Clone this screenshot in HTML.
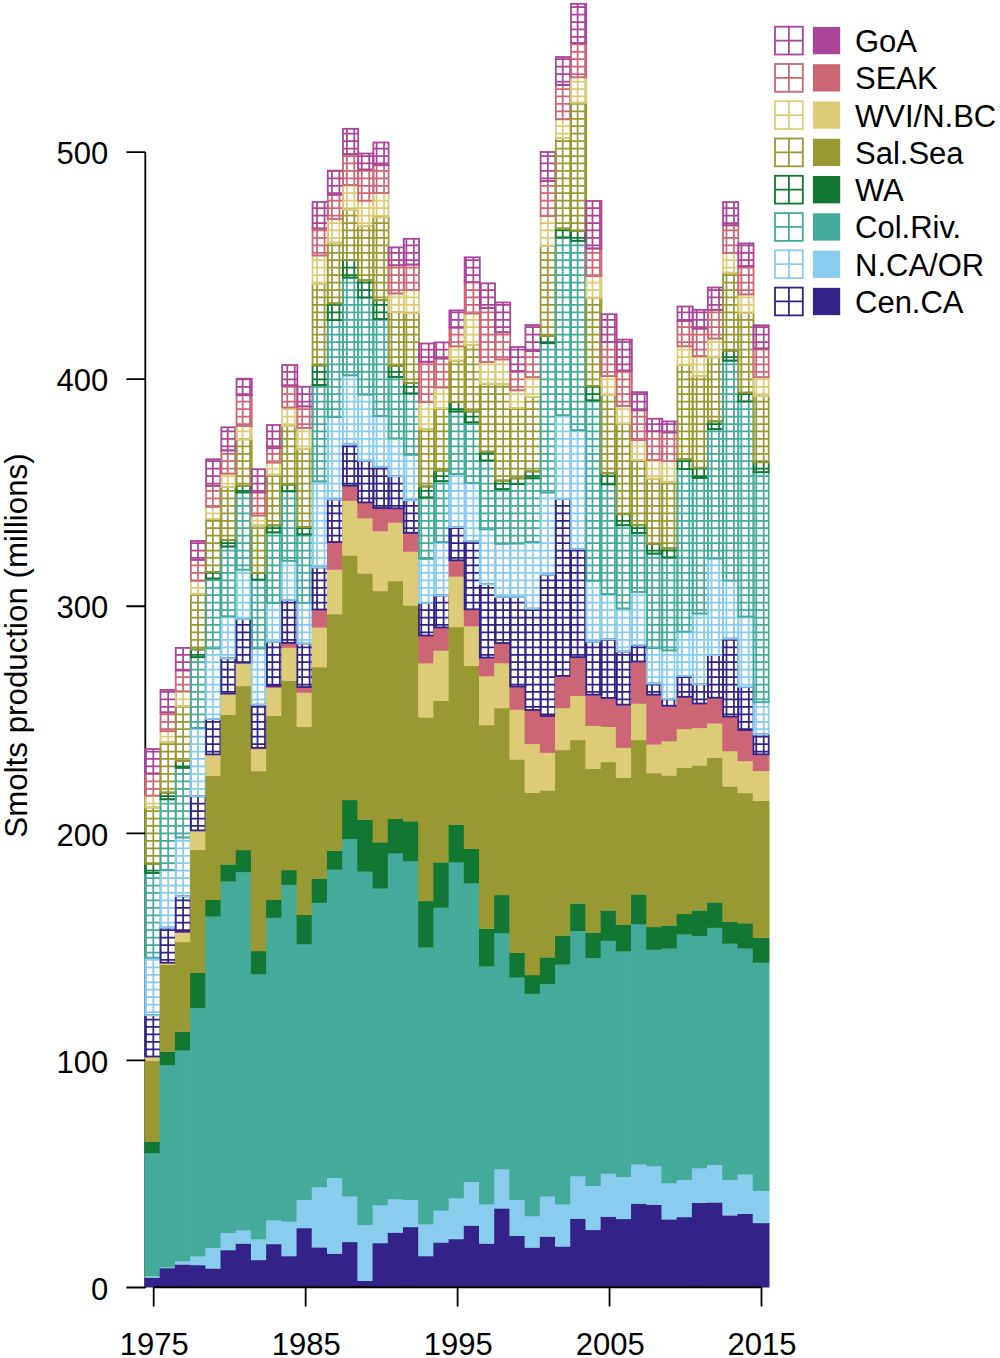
<!DOCTYPE html>
<html><head><meta charset="utf-8"><style>
html,body{margin:0;padding:0;background:#fff;}
body{width:1000px;height:1358px;overflow:hidden;font-family:"Liberation Sans",sans-serif;}
svg{display:block;}
</style></head><body>
<svg width="1000" height="1358" viewBox="0 0 1000 1358">
<rect width="1000" height="1358" fill="#fff"/>
<path d="M145.3 152.1V1288" stroke="#000" stroke-width="1.8" fill="none"/>
<g><path d="M144.5 1277.5H160.51V1287.5H144.5Z" fill="#332288"/><path d="M144.5 1276H160.51V1277.8H144.5Z" fill="#88CCEE"/><path d="M144.5 1152.9H160.51V1276.3H144.5Z" fill="#44AA99"/><path d="M144.5 1141.6H160.51V1153.2H144.5Z" fill="#117733"/><path d="M144.5 1060.8H160.51V1141.9H144.5Z" fill="#999933"/><path d="M144.5 1056.5H160.51V1061.1H144.5Z" fill="#DDCC77"/><path d="M145.86 1015.2V1056.5M153.3 1015.2V1056.5M145.3 1049.29H160.51M145.3 1041.85H160.51M145.3 1034.4H160.51M145.3 1026.96H160.51M145.3 1019.52H160.51" stroke="#332288" stroke-width="1.75" fill="none"/><path d="M145.86 957.7V1015.2M153.3 957.7V1015.2M145.3 1012.07H160.51M145.3 1004.63H160.51M145.3 997.18H160.51M145.3 989.74H160.51M145.3 982.3H160.51M145.3 974.85H160.51M145.3 967.41H160.51M145.3 959.96H160.51" stroke="#88CCEE" stroke-width="1.75" fill="none"/><path d="M145.86 873V957.7M153.3 873V957.7M145.3 952.52H160.51M145.3 945.08H160.51M145.3 937.63H160.51M145.3 930.19H160.51M145.3 922.74H160.51M145.3 915.3H160.51M145.3 907.86H160.51M145.3 900.41H160.51M145.3 892.97H160.51M145.3 885.52H160.51M145.3 878.08H160.51" stroke="#44AA99" stroke-width="1.75" fill="none"/><path d="M145.86 864V873M153.3 864V873M145.3 870.64H160.51" stroke="#117733" stroke-width="1.75" fill="none"/><path d="M145.86 807.5V864M153.3 807.5V864M145.3 863.19H160.51M145.3 855.75H160.51M145.3 848.3H160.51M145.3 840.86H160.51M145.3 833.42H160.51M145.3 825.97H160.51M145.3 818.53H160.51M145.3 811.08H160.51" stroke="#999933" stroke-width="1.75" fill="none"/><path d="M145.86 795.7V807.5M153.3 795.7V807.5M145.3 803.64H160.51M145.3 796.2H160.51" stroke="#DDCC77" stroke-width="1.75" fill="none"/><path d="M145.86 773.5V795.7M153.3 773.5V795.7M145.3 788.75H160.51M145.3 781.31H160.51M145.3 773.86H160.51" stroke="#CC6677" stroke-width="1.75" fill="none"/><path d="M145.86 749V773.5M153.3 749V773.5M145.3 766.42H160.51M145.3 758.98H160.51M145.3 751.53H160.51" stroke="#AA4499" stroke-width="1.75" fill="none"/><rect x="145.3" y="1015.2" width="15.21" height="41.3" fill="none" stroke="#332288" stroke-width="1.8"/><rect x="145.3" y="957.7" width="15.21" height="57.5" fill="none" stroke="#88CCEE" stroke-width="1.8"/><rect x="145.3" y="873" width="15.21" height="84.7" fill="none" stroke="#44AA99" stroke-width="1.8"/><rect x="145.3" y="864" width="15.21" height="9" fill="none" stroke="#117733" stroke-width="1.8"/><rect x="145.3" y="807.5" width="15.21" height="56.5" fill="none" stroke="#999933" stroke-width="1.8"/><rect x="145.3" y="795.7" width="15.21" height="11.8" fill="none" stroke="#DDCC77" stroke-width="1.8"/><rect x="145.3" y="773.5" width="15.21" height="22.2" fill="none" stroke="#CC6677" stroke-width="1.8"/><rect x="145.3" y="749" width="15.21" height="24.5" fill="none" stroke="#AA4499" stroke-width="1.8"/></g>
<g><path d="M159.71 1268H175.71V1287.5H159.71Z" fill="#332288"/><path d="M159.71 1267.2H175.71V1268.3H159.71Z" fill="#88CCEE"/><path d="M159.71 1064.8H175.71V1267.5H159.71Z" fill="#44AA99"/><path d="M159.71 1051.5H175.71V1065.1H159.71Z" fill="#117733"/><path d="M159.71 964.7H175.71V1051.8H159.71Z" fill="#999933"/><path d="M159.71 962.7H175.71V965H159.71Z" fill="#DDCC77"/><path d="M168.19 927.6V962.7M160.51 959.96H175.71M160.51 952.52H175.71M160.51 945.08H175.71M160.51 937.63H175.71M160.51 930.19H175.71" stroke="#332288" stroke-width="1.75" fill="none"/><path d="M168.19 870V927.6M160.51 922.74H175.71M160.51 915.3H175.71M160.51 907.86H175.71M160.51 900.41H175.71M160.51 892.97H175.71M160.51 885.52H175.71M160.51 878.08H175.71M160.51 870.64H175.71" stroke="#88CCEE" stroke-width="1.75" fill="none"/><path d="M168.19 799.3V870M160.51 863.19H175.71M160.51 855.75H175.71M160.51 848.3H175.71M160.51 840.86H175.71M160.51 833.42H175.71M160.51 825.97H175.71M160.51 818.53H175.71M160.51 811.08H175.71M160.51 803.64H175.71" stroke="#44AA99" stroke-width="1.75" fill="none"/><path d="M168.19 792.6V799.3M160.51 796.2H175.71" stroke="#117733" stroke-width="1.75" fill="none"/><path d="M168.19 742V792.6M160.51 788.75H175.71M160.51 781.31H175.71M160.51 773.86H175.71M160.51 766.42H175.71M160.51 758.98H175.71M160.51 751.53H175.71M160.51 744.09H175.71" stroke="#999933" stroke-width="1.75" fill="none"/><path d="M168.19 731.2V742M160.51 736.64H175.71" stroke="#DDCC77" stroke-width="1.75" fill="none"/><path d="M168.19 712.4V731.2M160.51 729.2H175.71M160.51 721.76H175.71M160.51 714.31H175.71" stroke="#CC6677" stroke-width="1.75" fill="none"/><path d="M168.19 689.9V712.4M160.51 706.87H175.71M160.51 699.42H175.71M160.51 691.98H175.71" stroke="#AA4499" stroke-width="1.75" fill="none"/><rect x="160.51" y="927.6" width="15.2" height="35.1" fill="none" stroke="#332288" stroke-width="1.8"/><rect x="160.51" y="870" width="15.2" height="57.6" fill="none" stroke="#88CCEE" stroke-width="1.8"/><rect x="160.51" y="799.3" width="15.2" height="70.7" fill="none" stroke="#44AA99" stroke-width="1.8"/><rect x="160.51" y="792.6" width="15.2" height="6.7" fill="none" stroke="#117733" stroke-width="1.8"/><rect x="160.51" y="742" width="15.2" height="50.6" fill="none" stroke="#999933" stroke-width="1.8"/><rect x="160.51" y="731.2" width="15.2" height="10.8" fill="none" stroke="#DDCC77" stroke-width="1.8"/><rect x="160.51" y="712.4" width="15.2" height="18.8" fill="none" stroke="#CC6677" stroke-width="1.8"/><rect x="160.51" y="689.9" width="15.2" height="22.5" fill="none" stroke="#AA4499" stroke-width="1.8"/></g>
<g><path d="M174.91 1264.3H190.92V1287.5H174.91Z" fill="#332288"/><path d="M174.91 1261H190.92V1264.6H174.91Z" fill="#88CCEE"/><path d="M174.91 1050.3H190.92V1261.3H174.91Z" fill="#44AA99"/><path d="M174.91 1031.5H190.92V1050.6H174.91Z" fill="#117733"/><path d="M174.91 941.9H190.92V1031.8H174.91Z" fill="#999933"/><path d="M174.91 932.6H190.92V942.2H174.91Z" fill="#DDCC77"/><path d="M174.91 931.5H190.92V932.9H174.91Z" fill="#CC6677"/><path d="M183.08 896.3V931.5M190.52 896.3V931.5M175.71 930.19H190.92M175.71 922.74H190.92M175.71 915.3H190.92M175.71 907.86H190.92M175.71 900.41H190.92" stroke="#332288" stroke-width="1.75" fill="none"/><path d="M183.08 837.5V896.3M190.52 837.5V896.3M175.71 892.97H190.92M175.71 885.52H190.92M175.71 878.08H190.92M175.71 870.64H190.92M175.71 863.19H190.92M175.71 855.75H190.92M175.71 848.3H190.92M175.71 840.86H190.92" stroke="#88CCEE" stroke-width="1.75" fill="none"/><path d="M183.08 767.8V837.5M190.52 767.8V837.5M175.71 833.42H190.92M175.71 825.97H190.92M175.71 818.53H190.92M175.71 811.08H190.92M175.71 803.64H190.92M175.71 796.2H190.92M175.71 788.75H190.92M175.71 781.31H190.92M175.71 773.86H190.92" stroke="#44AA99" stroke-width="1.75" fill="none"/><path d="M183.08 761.1V767.8M190.52 761.1V767.8M175.71 766.42H190.92" stroke="#117733" stroke-width="1.75" fill="none"/><path d="M183.08 706V761.1M190.52 706V761.1M175.71 758.98H190.92M175.71 751.53H190.92M175.71 744.09H190.92M175.71 736.64H190.92M175.71 729.2H190.92M175.71 721.76H190.92M175.71 714.31H190.92M175.71 706.87H190.92" stroke="#999933" stroke-width="1.75" fill="none"/><path d="M183.08 691.4V706M190.52 691.4V706M175.71 699.42H190.92M175.71 691.98H190.92" stroke="#DDCC77" stroke-width="1.75" fill="none"/><path d="M183.08 670.4V691.4M190.52 670.4V691.4M175.71 684.54H190.92M175.71 677.09H190.92" stroke="#CC6677" stroke-width="1.75" fill="none"/><path d="M183.08 647.9V670.4M190.52 647.9V670.4M175.71 669.65H190.92M175.71 662.2H190.92M175.71 654.76H190.92" stroke="#AA4499" stroke-width="1.75" fill="none"/><rect x="175.71" y="896.3" width="15.21" height="35.2" fill="none" stroke="#332288" stroke-width="1.8"/><rect x="175.71" y="837.5" width="15.21" height="58.8" fill="none" stroke="#88CCEE" stroke-width="1.8"/><rect x="175.71" y="767.8" width="15.21" height="69.7" fill="none" stroke="#44AA99" stroke-width="1.8"/><rect x="175.71" y="761.1" width="15.21" height="6.7" fill="none" stroke="#117733" stroke-width="1.8"/><rect x="175.71" y="706" width="15.21" height="55.1" fill="none" stroke="#999933" stroke-width="1.8"/><rect x="175.71" y="691.4" width="15.21" height="14.6" fill="none" stroke="#DDCC77" stroke-width="1.8"/><rect x="175.71" y="670.4" width="15.21" height="21" fill="none" stroke="#CC6677" stroke-width="1.8"/><rect x="175.71" y="647.9" width="15.21" height="22.5" fill="none" stroke="#AA4499" stroke-width="1.8"/></g>
<g><path d="M190.12 1265H206.12V1287.5H190.12Z" fill="#332288"/><path d="M190.12 1256.2H206.12V1265.3H190.12Z" fill="#88CCEE"/><path d="M190.12 1007.7H206.12V1256.5H190.12Z" fill="#44AA99"/><path d="M190.12 972.7H206.12V1008H190.12Z" fill="#117733"/><path d="M190.12 849.8H206.12V973H190.12Z" fill="#999933"/><path d="M190.12 830.4H206.12V850.1H190.12Z" fill="#DDCC77"/><path d="M197.96 796.3V830.4M205.41 796.3V830.4M190.92 825.97H206.12M190.92 818.53H206.12M190.92 811.08H206.12M190.92 803.64H206.12" stroke="#332288" stroke-width="1.75" fill="none"/><path d="M197.96 727.9V796.3M205.41 727.9V796.3M190.92 788.75H206.12M190.92 781.31H206.12M190.92 773.86H206.12M190.92 766.42H206.12M190.92 758.98H206.12M190.92 751.53H206.12M190.92 744.09H206.12M190.92 736.64H206.12M190.92 729.2H206.12" stroke="#88CCEE" stroke-width="1.75" fill="none"/><path d="M197.96 657.2V727.9M205.41 657.2V727.9M190.92 721.76H206.12M190.92 714.31H206.12M190.92 706.87H206.12M190.92 699.42H206.12M190.92 691.98H206.12M190.92 684.54H206.12M190.92 677.09H206.12M190.92 669.65H206.12M190.92 662.2H206.12" stroke="#44AA99" stroke-width="1.75" fill="none"/><path d="M197.96 649.5V657.2M205.41 649.5V657.2M190.92 654.76H206.12" stroke="#117733" stroke-width="1.75" fill="none"/><path d="M197.96 594V649.5M205.41 594V649.5M190.92 647.32H206.12M190.92 639.87H206.12M190.92 632.43H206.12M190.92 624.98H206.12M190.92 617.54H206.12M190.92 610.1H206.12M190.92 602.65H206.12M190.92 595.21H206.12" stroke="#999933" stroke-width="1.75" fill="none"/><path d="M197.96 580.8V594M205.41 580.8V594M190.92 587.76H206.12" stroke="#DDCC77" stroke-width="1.75" fill="none"/><path d="M197.96 559.8V580.8M205.41 559.8V580.8M190.92 580.32H206.12M190.92 572.88H206.12M190.92 565.43H206.12" stroke="#CC6677" stroke-width="1.75" fill="none"/><path d="M197.96 541V559.8M205.41 541V559.8M190.92 557.99H206.12M190.92 550.54H206.12M190.92 543.1H206.12" stroke="#AA4499" stroke-width="1.75" fill="none"/><rect x="190.92" y="796.3" width="15.2" height="34.1" fill="none" stroke="#332288" stroke-width="1.8"/><rect x="190.92" y="727.9" width="15.2" height="68.4" fill="none" stroke="#88CCEE" stroke-width="1.8"/><rect x="190.92" y="657.2" width="15.2" height="70.7" fill="none" stroke="#44AA99" stroke-width="1.8"/><rect x="190.92" y="649.5" width="15.2" height="7.7" fill="none" stroke="#117733" stroke-width="1.8"/><rect x="190.92" y="594" width="15.2" height="55.5" fill="none" stroke="#999933" stroke-width="1.8"/><rect x="190.92" y="580.8" width="15.2" height="13.2" fill="none" stroke="#DDCC77" stroke-width="1.8"/><rect x="190.92" y="559.8" width="15.2" height="21" fill="none" stroke="#CC6677" stroke-width="1.8"/><rect x="190.92" y="541" width="15.2" height="18.8" fill="none" stroke="#AA4499" stroke-width="1.8"/></g>
<g><path d="M205.32 1268.3H221.33V1287.5H205.32Z" fill="#332288"/><path d="M205.32 1247.8H221.33V1268.6H205.32Z" fill="#88CCEE"/><path d="M205.32 916.4H221.33V1248.1H205.32Z" fill="#44AA99"/><path d="M205.32 899.6H221.33V916.7H205.32Z" fill="#117733"/><path d="M205.32 775.4H221.33V899.9H205.32Z" fill="#999933"/><path d="M205.32 754.4H221.33V775.7H205.32Z" fill="#DDCC77"/><path d="M212.85 719V754.4M220.3 719V754.4M206.12 751.53H221.33M206.12 744.09H221.33M206.12 736.64H221.33M206.12 729.2H221.33M206.12 721.76H221.33" stroke="#332288" stroke-width="1.75" fill="none"/><path d="M212.85 648.4V719M220.3 648.4V719M206.12 714.31H221.33M206.12 706.87H221.33M206.12 699.42H221.33M206.12 691.98H221.33M206.12 684.54H221.33M206.12 677.09H221.33M206.12 669.65H221.33M206.12 662.2H221.33M206.12 654.76H221.33" stroke="#88CCEE" stroke-width="1.75" fill="none"/><path d="M212.85 578.6V648.4M220.3 578.6V648.4M206.12 647.32H221.33M206.12 639.87H221.33M206.12 632.43H221.33M206.12 624.98H221.33M206.12 617.54H221.33M206.12 610.1H221.33M206.12 602.65H221.33M206.12 595.21H221.33M206.12 587.76H221.33M206.12 580.32H221.33" stroke="#44AA99" stroke-width="1.75" fill="none"/><path d="M212.85 572V578.6M220.3 572V578.6M206.12 572.88H221.33" stroke="#117733" stroke-width="1.75" fill="none"/><path d="M212.85 518.9V572M220.3 518.9V572M206.12 565.43H221.33M206.12 557.99H221.33M206.12 550.54H221.33M206.12 543.1H221.33M206.12 535.66H221.33M206.12 528.21H221.33M206.12 520.77H221.33" stroke="#999933" stroke-width="1.75" fill="none"/><path d="M212.85 506.8V518.9M220.3 506.8V518.9M206.12 513.32H221.33" stroke="#DDCC77" stroke-width="1.75" fill="none"/><path d="M212.85 485.8V506.8M220.3 485.8V506.8M206.12 505.88H221.33M206.12 498.44H221.33M206.12 490.99H221.33" stroke="#CC6677" stroke-width="1.75" fill="none"/><path d="M212.85 459.3V485.8M220.3 459.3V485.8M206.12 483.55H221.33M206.12 476.1H221.33M206.12 468.66H221.33M206.12 461.22H221.33" stroke="#AA4499" stroke-width="1.75" fill="none"/><rect x="206.12" y="719" width="15.21" height="35.4" fill="none" stroke="#332288" stroke-width="1.8"/><rect x="206.12" y="648.4" width="15.21" height="70.6" fill="none" stroke="#88CCEE" stroke-width="1.8"/><rect x="206.12" y="578.6" width="15.21" height="69.8" fill="none" stroke="#44AA99" stroke-width="1.8"/><rect x="206.12" y="572" width="15.21" height="6.6" fill="none" stroke="#117733" stroke-width="1.8"/><rect x="206.12" y="518.9" width="15.21" height="53.1" fill="none" stroke="#999933" stroke-width="1.8"/><rect x="206.12" y="506.8" width="15.21" height="12.1" fill="none" stroke="#DDCC77" stroke-width="1.8"/><rect x="206.12" y="485.8" width="15.21" height="21" fill="none" stroke="#CC6677" stroke-width="1.8"/><rect x="206.12" y="459.3" width="15.21" height="26.5" fill="none" stroke="#AA4499" stroke-width="1.8"/></g>
<g><path d="M220.53 1250H236.53V1287.5H220.53Z" fill="#332288"/><path d="M220.53 1232.8H236.53V1250.3H220.53Z" fill="#88CCEE"/><path d="M220.53 881.3H236.53V1233.1H220.53Z" fill="#44AA99"/><path d="M220.53 864.3H236.53V881.6H220.53Z" fill="#117733"/><path d="M220.53 714.6H236.53V864.6H220.53Z" fill="#999933"/><path d="M220.53 693.6H236.53V714.9H220.53Z" fill="#DDCC77"/><path d="M227.74 658.3V693.6M235.18 658.3V693.6M221.33 691.98H236.53M221.33 684.54H236.53M221.33 677.09H236.53M221.33 669.65H236.53M221.33 662.2H236.53" stroke="#332288" stroke-width="1.75" fill="none"/><path d="M227.74 616.3V658.3M235.18 616.3V658.3M221.33 654.76H236.53M221.33 647.32H236.53M221.33 639.87H236.53M221.33 632.43H236.53M221.33 624.98H236.53M221.33 617.54H236.53" stroke="#88CCEE" stroke-width="1.75" fill="none"/><path d="M227.74 546.5V616.3M235.18 546.5V616.3M221.33 610.1H236.53M221.33 602.65H236.53M221.33 595.21H236.53M221.33 587.76H236.53M221.33 580.32H236.53M221.33 572.88H236.53M221.33 565.43H236.53M221.33 557.99H236.53M221.33 550.54H236.53" stroke="#44AA99" stroke-width="1.75" fill="none"/><path d="M227.74 539.9V546.5M235.18 539.9V546.5M221.33 543.1H236.53" stroke="#117733" stroke-width="1.75" fill="none"/><path d="M227.74 486.9V539.9M235.18 486.9V539.9M221.33 535.66H236.53M221.33 528.21H236.53M221.33 520.77H236.53M221.33 513.32H236.53M221.33 505.88H236.53M221.33 498.44H236.53M221.33 490.99H236.53" stroke="#999933" stroke-width="1.75" fill="none"/><path d="M227.74 473.6V486.9M235.18 473.6V486.9M221.33 483.55H236.53M221.33 476.1H236.53" stroke="#DDCC77" stroke-width="1.75" fill="none"/><path d="M227.74 450.4V473.6M235.18 450.4V473.6M221.33 468.66H236.53M221.33 461.22H236.53M221.33 453.77H236.53" stroke="#CC6677" stroke-width="1.75" fill="none"/><path d="M227.74 427.3V450.4M235.18 427.3V450.4M221.33 446.33H236.53M221.33 438.88H236.53M221.33 431.44H236.53" stroke="#AA4499" stroke-width="1.75" fill="none"/><rect x="221.33" y="658.3" width="15.21" height="35.3" fill="none" stroke="#332288" stroke-width="1.8"/><rect x="221.33" y="616.3" width="15.21" height="42" fill="none" stroke="#88CCEE" stroke-width="1.8"/><rect x="221.33" y="546.5" width="15.21" height="69.8" fill="none" stroke="#44AA99" stroke-width="1.8"/><rect x="221.33" y="539.9" width="15.21" height="6.6" fill="none" stroke="#117733" stroke-width="1.8"/><rect x="221.33" y="486.9" width="15.21" height="53" fill="none" stroke="#999933" stroke-width="1.8"/><rect x="221.33" y="473.6" width="15.21" height="13.3" fill="none" stroke="#DDCC77" stroke-width="1.8"/><rect x="221.33" y="450.4" width="15.21" height="23.2" fill="none" stroke="#CC6677" stroke-width="1.8"/><rect x="221.33" y="427.3" width="15.21" height="23.1" fill="none" stroke="#AA4499" stroke-width="1.8"/></g>
<g><path d="M235.73 1243.4H251.74V1287.5H235.73Z" fill="#332288"/><path d="M235.73 1230.2H251.74V1243.7H235.73Z" fill="#88CCEE"/><path d="M235.73 871.8H251.74V1230.5H235.73Z" fill="#44AA99"/><path d="M235.73 850H251.74V872.1H235.73Z" fill="#117733"/><path d="M235.73 685.9H251.74V850.3H235.73Z" fill="#999933"/><path d="M235.73 662.7H251.74V686.2H235.73Z" fill="#DDCC77"/><path d="M242.63 619V662.7M250.07 619V662.7M236.53 662.2H251.74M236.53 654.76H251.74M236.53 647.32H251.74M236.53 639.87H251.74M236.53 632.43H251.74M236.53 624.98H251.74" stroke="#332288" stroke-width="1.75" fill="none"/><path d="M242.63 569.7V619M250.07 569.7V619M236.53 617.54H251.74M236.53 610.1H251.74M236.53 602.65H251.74M236.53 595.21H251.74M236.53 587.76H251.74M236.53 580.32H251.74M236.53 572.88H251.74" stroke="#88CCEE" stroke-width="1.75" fill="none"/><path d="M242.63 492.4V569.7M250.07 492.4V569.7M236.53 565.43H251.74M236.53 557.99H251.74M236.53 550.54H251.74M236.53 543.1H251.74M236.53 535.66H251.74M236.53 528.21H251.74M236.53 520.77H251.74M236.53 513.32H251.74M236.53 505.88H251.74M236.53 498.44H251.74" stroke="#44AA99" stroke-width="1.75" fill="none"/><path d="M242.63 485.8V492.4M250.07 485.8V492.4M236.53 490.99H251.74" stroke="#117733" stroke-width="1.75" fill="none"/><path d="M242.63 439.4V485.8M250.07 439.4V485.8M236.53 483.55H251.74M236.53 476.1H251.74M236.53 468.66H251.74M236.53 461.22H251.74M236.53 453.77H251.74M236.53 446.33H251.74" stroke="#999933" stroke-width="1.75" fill="none"/><path d="M242.63 426.1V439.4M250.07 426.1V439.4M236.53 438.88H251.74M236.53 431.44H251.74" stroke="#DDCC77" stroke-width="1.75" fill="none"/><path d="M242.63 395.2V426.1M250.07 395.2V426.1M236.53 424H251.74M236.53 416.55H251.74M236.53 409.11H251.74M236.53 401.66H251.74" stroke="#CC6677" stroke-width="1.75" fill="none"/><path d="M242.63 378.7V395.2M250.07 378.7V395.2M236.53 394.22H251.74M236.53 386.78H251.74M236.53 379.33H251.74" stroke="#AA4499" stroke-width="1.75" fill="none"/><rect x="236.53" y="619" width="15.2" height="43.7" fill="none" stroke="#332288" stroke-width="1.8"/><rect x="236.53" y="569.7" width="15.2" height="49.3" fill="none" stroke="#88CCEE" stroke-width="1.8"/><rect x="236.53" y="492.4" width="15.2" height="77.3" fill="none" stroke="#44AA99" stroke-width="1.8"/><rect x="236.53" y="485.8" width="15.2" height="6.6" fill="none" stroke="#117733" stroke-width="1.8"/><rect x="236.53" y="439.4" width="15.2" height="46.4" fill="none" stroke="#999933" stroke-width="1.8"/><rect x="236.53" y="426.1" width="15.2" height="13.3" fill="none" stroke="#DDCC77" stroke-width="1.8"/><rect x="236.53" y="395.2" width="15.2" height="30.9" fill="none" stroke="#CC6677" stroke-width="1.8"/><rect x="236.53" y="378.7" width="15.2" height="16.5" fill="none" stroke="#AA4499" stroke-width="1.8"/></g>
<g><path d="M250.94 1259.9H266.94V1287.5H250.94Z" fill="#332288"/><path d="M250.94 1239H266.94V1260.2H250.94Z" fill="#88CCEE"/><path d="M250.94 973.9H266.94V1239.3H250.94Z" fill="#44AA99"/><path d="M250.94 950.9H266.94V974.2H250.94Z" fill="#117733"/><path d="M250.94 771H266.94V951.2H250.94Z" fill="#999933"/><path d="M250.94 748.9H266.94V771.3H250.94Z" fill="#DDCC77"/><path d="M250.94 747.8H266.94V749.2H250.94Z" fill="#CC6677"/><path d="M257.52 704.7V747.8M264.96 704.7V747.8M251.74 744.09H266.94M251.74 736.64H266.94M251.74 729.2H266.94M251.74 721.76H266.94M251.74 714.31H266.94M251.74 706.87H266.94" stroke="#332288" stroke-width="1.75" fill="none"/><path d="M257.52 648.4V704.7M264.96 648.4V704.7M251.74 699.42H266.94M251.74 691.98H266.94M251.74 684.54H266.94M251.74 677.09H266.94M251.74 669.65H266.94M251.74 662.2H266.94M251.74 654.76H266.94" stroke="#88CCEE" stroke-width="1.75" fill="none"/><path d="M257.52 579.7V648.4M264.96 579.7V648.4M251.74 647.32H266.94M251.74 639.87H266.94M251.74 632.43H266.94M251.74 624.98H266.94M251.74 617.54H266.94M251.74 610.1H266.94M251.74 602.65H266.94M251.74 595.21H266.94M251.74 587.76H266.94M251.74 580.32H266.94" stroke="#44AA99" stroke-width="1.75" fill="none"/><path d="M257.52 573V579.7M264.96 573V579.7" stroke="#117733" stroke-width="1.75" fill="none"/><path d="M257.52 525.6V573M264.96 525.6V573M251.74 565.43H266.94M251.74 557.99H266.94M251.74 550.54H266.94M251.74 543.1H266.94M251.74 535.66H266.94M251.74 528.21H266.94" stroke="#999933" stroke-width="1.75" fill="none"/><path d="M257.52 515.6V525.6M264.96 515.6V525.6M251.74 520.77H266.94" stroke="#DDCC77" stroke-width="1.75" fill="none"/><path d="M257.52 492.4V515.6M264.96 492.4V515.6M251.74 513.32H266.94M251.74 505.88H266.94M251.74 498.44H266.94" stroke="#CC6677" stroke-width="1.75" fill="none"/><path d="M257.52 469.2V492.4M264.96 469.2V492.4M251.74 490.99H266.94M251.74 483.55H266.94M251.74 476.1H266.94" stroke="#AA4499" stroke-width="1.75" fill="none"/><rect x="251.74" y="704.7" width="15.2" height="43.1" fill="none" stroke="#332288" stroke-width="1.8"/><rect x="251.74" y="648.4" width="15.2" height="56.3" fill="none" stroke="#88CCEE" stroke-width="1.8"/><rect x="251.74" y="579.7" width="15.2" height="68.7" fill="none" stroke="#44AA99" stroke-width="1.8"/><rect x="251.74" y="573" width="15.2" height="6.7" fill="none" stroke="#117733" stroke-width="1.8"/><rect x="251.74" y="525.6" width="15.2" height="47.4" fill="none" stroke="#999933" stroke-width="1.8"/><rect x="251.74" y="515.6" width="15.2" height="10" fill="none" stroke="#DDCC77" stroke-width="1.8"/><rect x="251.74" y="492.4" width="15.2" height="23.2" fill="none" stroke="#CC6677" stroke-width="1.8"/><rect x="251.74" y="469.2" width="15.2" height="23.2" fill="none" stroke="#AA4499" stroke-width="1.8"/></g>
<g><path d="M266.14 1244H282.15V1287.5H266.14Z" fill="#332288"/><path d="M266.14 1220.3H282.15V1244.3H266.14Z" fill="#88CCEE"/><path d="M266.14 917.6H282.15V1220.6H266.14Z" fill="#44AA99"/><path d="M266.14 899.6H282.15V917.9H266.14Z" fill="#117733"/><path d="M266.14 715.7H282.15V899.9H266.14Z" fill="#999933"/><path d="M266.14 687.7H282.15V716H266.14Z" fill="#DDCC77"/><path d="M266.14 685.9H282.15V688H266.14Z" fill="#CC6677"/><path d="M272.4 641.8V685.9M279.85 641.8V685.9M266.94 684.54H282.14M266.94 677.09H282.14M266.94 669.65H282.14M266.94 662.2H282.14M266.94 654.76H282.14M266.94 647.32H282.14" stroke="#332288" stroke-width="1.75" fill="none"/><path d="M272.4 603V641.8M279.85 603V641.8M266.94 639.87H282.14M266.94 632.43H282.14M266.94 624.98H282.14M266.94 617.54H282.14M266.94 610.1H282.14" stroke="#88CCEE" stroke-width="1.75" fill="none"/><path d="M272.4 532.4V603M279.85 532.4V603M266.94 602.65H282.14M266.94 595.21H282.14M266.94 587.76H282.14M266.94 580.32H282.14M266.94 572.88H282.14M266.94 565.43H282.14M266.94 557.99H282.14M266.94 550.54H282.14M266.94 543.1H282.14M266.94 535.66H282.14" stroke="#44AA99" stroke-width="1.75" fill="none"/><path d="M272.4 525.4V532.4M279.85 525.4V532.4M266.94 528.21H282.14" stroke="#117733" stroke-width="1.75" fill="none"/><path d="M272.4 474.7V525.4M279.85 474.7V525.4M266.94 520.77H282.14M266.94 513.32H282.14M266.94 505.88H282.14M266.94 498.44H282.14M266.94 490.99H282.14M266.94 483.55H282.14M266.94 476.1H282.14" stroke="#999933" stroke-width="1.75" fill="none"/><path d="M272.4 462.6V474.7M279.85 462.6V474.7M266.94 468.66H282.14" stroke="#DDCC77" stroke-width="1.75" fill="none"/><path d="M272.4 448.2V462.6M279.85 448.2V462.6M266.94 461.22H282.14M266.94 453.77H282.14" stroke="#CC6677" stroke-width="1.75" fill="none"/><path d="M272.4 425V448.2M279.85 425V448.2M266.94 446.33H282.14M266.94 438.88H282.14M266.94 431.44H282.14" stroke="#AA4499" stroke-width="1.75" fill="none"/><rect x="266.94" y="641.8" width="15.2" height="44.1" fill="none" stroke="#332288" stroke-width="1.8"/><rect x="266.94" y="603" width="15.2" height="38.8" fill="none" stroke="#88CCEE" stroke-width="1.8"/><rect x="266.94" y="532.4" width="15.2" height="70.6" fill="none" stroke="#44AA99" stroke-width="1.8"/><rect x="266.94" y="525.4" width="15.2" height="7" fill="none" stroke="#117733" stroke-width="1.8"/><rect x="266.94" y="474.7" width="15.2" height="50.7" fill="none" stroke="#999933" stroke-width="1.8"/><rect x="266.94" y="462.6" width="15.2" height="12.1" fill="none" stroke="#DDCC77" stroke-width="1.8"/><rect x="266.94" y="448.2" width="15.2" height="14.4" fill="none" stroke="#CC6677" stroke-width="1.8"/><rect x="266.94" y="425" width="15.2" height="23.2" fill="none" stroke="#AA4499" stroke-width="1.8"/></g>
<g><path d="M281.35 1256H297.35V1287.5H281.35Z" fill="#332288"/><path d="M281.35 1221.4H297.35V1256.3H281.35Z" fill="#88CCEE"/><path d="M281.35 884.6H297.35V1221.7H281.35Z" fill="#44AA99"/><path d="M281.35 870H297.35V884.9H281.35Z" fill="#117733"/><path d="M281.35 680.4H297.35V870.3H281.35Z" fill="#999933"/><path d="M281.35 647.5H297.35V680.7H281.35Z" fill="#DDCC77"/><path d="M281.35 642.8H297.35V647.8H281.35Z" fill="#CC6677"/><path d="M287.29 600V642.8M294.74 600V642.8M282.14 639.87H297.35M282.14 632.43H297.35M282.14 624.98H297.35M282.14 617.54H297.35M282.14 610.1H297.35M282.14 602.65H297.35" stroke="#332288" stroke-width="1.75" fill="none"/><path d="M287.29 560.8V600M294.74 560.8V600M282.14 595.21H297.35M282.14 587.76H297.35M282.14 580.32H297.35M282.14 572.88H297.35M282.14 565.43H297.35" stroke="#88CCEE" stroke-width="1.75" fill="none"/><path d="M287.29 491.3V560.8M294.74 491.3V560.8M282.14 557.99H297.35M282.14 550.54H297.35M282.14 543.1H297.35M282.14 535.66H297.35M282.14 528.21H297.35M282.14 520.77H297.35M282.14 513.32H297.35M282.14 505.88H297.35M282.14 498.44H297.35" stroke="#44AA99" stroke-width="1.75" fill="none"/><path d="M287.29 484.7V491.3M294.74 484.7V491.3M282.14 490.99H297.35" stroke="#117733" stroke-width="1.75" fill="none"/><path d="M287.29 426.1V484.7M294.74 426.1V484.7M282.14 483.55H297.35M282.14 476.1H297.35M282.14 468.66H297.35M282.14 461.22H297.35M282.14 453.77H297.35M282.14 446.33H297.35M282.14 438.88H297.35M282.14 431.44H297.35" stroke="#999933" stroke-width="1.75" fill="none"/><path d="M287.29 407.5V426.1M294.74 407.5V426.1M282.14 424H297.35M282.14 416.55H297.35M282.14 409.11H297.35" stroke="#DDCC77" stroke-width="1.75" fill="none"/><path d="M287.29 385.4V407.5M294.74 385.4V407.5M282.14 401.66H297.35M282.14 394.22H297.35M282.14 386.78H297.35" stroke="#CC6677" stroke-width="1.75" fill="none"/><path d="M287.29 365V385.4M294.74 365V385.4M282.14 379.33H297.35M282.14 371.89H297.35" stroke="#AA4499" stroke-width="1.75" fill="none"/><rect x="282.14" y="600" width="15.21" height="42.8" fill="none" stroke="#332288" stroke-width="1.8"/><rect x="282.14" y="560.8" width="15.21" height="39.2" fill="none" stroke="#88CCEE" stroke-width="1.8"/><rect x="282.14" y="491.3" width="15.21" height="69.5" fill="none" stroke="#44AA99" stroke-width="1.8"/><rect x="282.14" y="484.7" width="15.21" height="6.6" fill="none" stroke="#117733" stroke-width="1.8"/><rect x="282.14" y="426.1" width="15.21" height="58.6" fill="none" stroke="#999933" stroke-width="1.8"/><rect x="282.14" y="407.5" width="15.21" height="18.6" fill="none" stroke="#DDCC77" stroke-width="1.8"/><rect x="282.14" y="385.4" width="15.21" height="22.1" fill="none" stroke="#CC6677" stroke-width="1.8"/><rect x="282.14" y="365" width="15.21" height="20.4" fill="none" stroke="#AA4499" stroke-width="1.8"/></g>
<g><path d="M296.55 1228H312.56V1287.5H296.55Z" fill="#332288"/><path d="M296.55 1199.8H312.56V1228.3H296.55Z" fill="#88CCEE"/><path d="M296.55 943.9H312.56V1200.1H296.55Z" fill="#44AA99"/><path d="M296.55 914.6H312.56V944.2H296.55Z" fill="#117733"/><path d="M296.55 726.8H312.56V914.9H296.55Z" fill="#999933"/><path d="M296.55 692.5H312.56V727.1H296.55Z" fill="#DDCC77"/><path d="M296.55 687H312.56V692.8H296.55Z" fill="#CC6677"/><path d="M302.18 643.6V687M309.62 643.6V687M297.35 684.54H312.56M297.35 677.09H312.56M297.35 669.65H312.56M297.35 662.2H312.56M297.35 654.76H312.56M297.35 647.32H312.56" stroke="#332288" stroke-width="1.75" fill="none"/><path d="M302.18 602.8V643.6M309.62 602.8V643.6M297.35 639.87H312.56M297.35 632.43H312.56M297.35 624.98H312.56M297.35 617.54H312.56M297.35 610.1H312.56" stroke="#88CCEE" stroke-width="1.75" fill="none"/><path d="M302.18 534.4V602.8M309.62 534.4V602.8M297.35 595.21H312.56M297.35 587.76H312.56M297.35 580.32H312.56M297.35 572.88H312.56M297.35 565.43H312.56M297.35 557.99H312.56M297.35 550.54H312.56M297.35 543.1H312.56M297.35 535.66H312.56" stroke="#44AA99" stroke-width="1.75" fill="none"/><path d="M302.18 527V534.4M309.62 527V534.4M297.35 528.21H312.56" stroke="#117733" stroke-width="1.75" fill="none"/><path d="M302.18 449V527M309.62 449V527M297.35 520.77H312.56M297.35 513.32H312.56M297.35 505.88H312.56M297.35 498.44H312.56M297.35 490.99H312.56M297.35 483.55H312.56M297.35 476.1H312.56M297.35 468.66H312.56M297.35 461.22H312.56M297.35 453.77H312.56" stroke="#999933" stroke-width="1.75" fill="none"/><path d="M302.18 428V449M309.62 428V449M297.35 446.33H312.56M297.35 438.88H312.56M297.35 431.44H312.56" stroke="#DDCC77" stroke-width="1.75" fill="none"/><path d="M302.18 406.4V428M309.62 406.4V428M297.35 424H312.56M297.35 416.55H312.56M297.35 409.11H312.56" stroke="#CC6677" stroke-width="1.75" fill="none"/><path d="M302.18 386.7V406.4M309.62 386.7V406.4M297.35 401.66H312.56M297.35 394.22H312.56" stroke="#AA4499" stroke-width="1.75" fill="none"/><rect x="297.35" y="643.6" width="15.2" height="43.4" fill="none" stroke="#332288" stroke-width="1.8"/><rect x="297.35" y="602.8" width="15.2" height="40.8" fill="none" stroke="#88CCEE" stroke-width="1.8"/><rect x="297.35" y="534.4" width="15.2" height="68.4" fill="none" stroke="#44AA99" stroke-width="1.8"/><rect x="297.35" y="527" width="15.2" height="7.4" fill="none" stroke="#117733" stroke-width="1.8"/><rect x="297.35" y="449" width="15.2" height="78" fill="none" stroke="#999933" stroke-width="1.8"/><rect x="297.35" y="428" width="15.2" height="21" fill="none" stroke="#DDCC77" stroke-width="1.8"/><rect x="297.35" y="406.4" width="15.2" height="21.6" fill="none" stroke="#CC6677" stroke-width="1.8"/><rect x="297.35" y="386.7" width="15.2" height="19.7" fill="none" stroke="#AA4499" stroke-width="1.8"/></g>
<g><path d="M311.75 1247.2H327.76V1287.5H311.75Z" fill="#332288"/><path d="M311.75 1186.9H327.76V1247.5H311.75Z" fill="#88CCEE"/><path d="M311.75 902.6H327.76V1187.2H311.75Z" fill="#44AA99"/><path d="M311.75 878.8H327.76V902.9H311.75Z" fill="#117733"/><path d="M311.75 667.1H327.76V879.1H311.75Z" fill="#999933"/><path d="M311.75 627.3H327.76V667.4H311.75Z" fill="#DDCC77"/><path d="M311.75 609.5H327.76V627.6H311.75Z" fill="#CC6677"/><path d="M317.07 567.5V609.5M324.51 567.5V609.5M312.56 602.65H327.76M312.56 595.21H327.76M312.56 587.76H327.76M312.56 580.32H327.76M312.56 572.88H327.76" stroke="#332288" stroke-width="1.75" fill="none"/><path d="M317.07 481.4V567.5M324.51 481.4V567.5M312.56 565.43H327.76M312.56 557.99H327.76M312.56 550.54H327.76M312.56 543.1H327.76M312.56 535.66H327.76M312.56 528.21H327.76M312.56 520.77H327.76M312.56 513.32H327.76M312.56 505.88H327.76M312.56 498.44H327.76M312.56 490.99H327.76M312.56 483.55H327.76" stroke="#88CCEE" stroke-width="1.75" fill="none"/><path d="M317.07 385V481.4M324.51 385V481.4M312.56 476.1H327.76M312.56 468.66H327.76M312.56 461.22H327.76M312.56 453.77H327.76M312.56 446.33H327.76M312.56 438.88H327.76M312.56 431.44H327.76M312.56 424H327.76M312.56 416.55H327.76M312.56 409.11H327.76M312.56 401.66H327.76M312.56 394.22H327.76M312.56 386.78H327.76" stroke="#44AA99" stroke-width="1.75" fill="none"/><path d="M317.07 365.5V385M324.51 365.5V385M312.56 379.33H327.76M312.56 371.89H327.76" stroke="#117733" stroke-width="1.75" fill="none"/><path d="M317.07 283.8V365.5M324.51 283.8V365.5M312.56 364.44H327.76M312.56 357H327.76M312.56 349.56H327.76M312.56 342.11H327.76M312.56 334.67H327.76M312.56 327.22H327.76M312.56 319.78H327.76M312.56 312.34H327.76M312.56 304.89H327.76M312.56 297.45H327.76M312.56 290H327.76" stroke="#999933" stroke-width="1.75" fill="none"/><path d="M317.07 255.5V283.8M324.51 255.5V283.8M312.56 282.56H327.76M312.56 275.12H327.76M312.56 267.67H327.76M312.56 260.23H327.76" stroke="#DDCC77" stroke-width="1.75" fill="none"/><path d="M317.07 228.5V255.5M324.51 228.5V255.5M312.56 252.78H327.76M312.56 245.34H327.76M312.56 237.9H327.76M312.56 230.45H327.76" stroke="#CC6677" stroke-width="1.75" fill="none"/><path d="M317.07 202V228.5M324.51 202V228.5M312.56 223.01H327.76M312.56 215.56H327.76M312.56 208.12H327.76" stroke="#AA4499" stroke-width="1.75" fill="none"/><rect x="312.56" y="567.5" width="15.2" height="42" fill="none" stroke="#332288" stroke-width="1.8"/><rect x="312.56" y="481.4" width="15.2" height="86.1" fill="none" stroke="#88CCEE" stroke-width="1.8"/><rect x="312.56" y="385" width="15.2" height="96.4" fill="none" stroke="#44AA99" stroke-width="1.8"/><rect x="312.56" y="365.5" width="15.2" height="19.5" fill="none" stroke="#117733" stroke-width="1.8"/><rect x="312.56" y="283.8" width="15.2" height="81.7" fill="none" stroke="#999933" stroke-width="1.8"/><rect x="312.56" y="255.5" width="15.2" height="28.3" fill="none" stroke="#DDCC77" stroke-width="1.8"/><rect x="312.56" y="228.5" width="15.2" height="27" fill="none" stroke="#CC6677" stroke-width="1.8"/><rect x="312.56" y="202" width="15.2" height="26.5" fill="none" stroke="#AA4499" stroke-width="1.8"/></g>
<g><path d="M326.96 1253.5H342.96V1287.5H326.96Z" fill="#332288"/><path d="M326.96 1177.8H342.96V1253.8H326.96Z" fill="#88CCEE"/><path d="M326.96 869.5H342.96V1178.1H326.96Z" fill="#44AA99"/><path d="M326.96 850.5H342.96V869.8H326.96Z" fill="#117733"/><path d="M326.96 614.1H342.96V850.8H326.96Z" fill="#999933"/><path d="M326.96 569.5H342.96V614.4H326.96Z" fill="#DDCC77"/><path d="M326.96 542H342.96V569.8H326.96Z" fill="#CC6677"/><path d="M331.96 499.4V542M339.4 499.4V542M327.76 535.66H342.97M327.76 528.21H342.97M327.76 520.77H342.97M327.76 513.32H342.97M327.76 505.88H342.97" stroke="#332288" stroke-width="1.75" fill="none"/><path d="M331.96 417V499.4M339.4 417V499.4M327.76 498.44H342.97M327.76 490.99H342.97M327.76 483.55H342.97M327.76 476.1H342.97M327.76 468.66H342.97M327.76 461.22H342.97M327.76 453.77H342.97M327.76 446.33H342.97M327.76 438.88H342.97M327.76 431.44H342.97M327.76 424H342.97" stroke="#88CCEE" stroke-width="1.75" fill="none"/><path d="M331.96 320.1V417M339.4 320.1V417M327.76 416.55H342.97M327.76 409.11H342.97M327.76 401.66H342.97M327.76 394.22H342.97M327.76 386.78H342.97M327.76 379.33H342.97M327.76 371.89H342.97M327.76 364.44H342.97M327.76 357H342.97M327.76 349.56H342.97M327.76 342.11H342.97M327.76 334.67H342.97M327.76 327.22H342.97" stroke="#44AA99" stroke-width="1.75" fill="none"/><path d="M331.96 303.5V320.1M339.4 303.5V320.1M327.76 319.78H342.97M327.76 312.34H342.97M327.76 304.89H342.97" stroke="#117733" stroke-width="1.75" fill="none"/><path d="M331.96 242.7V303.5M339.4 242.7V303.5M327.76 297.45H342.97M327.76 290H342.97M327.76 282.56H342.97M327.76 275.12H342.97M327.76 267.67H342.97M327.76 260.23H342.97M327.76 252.78H342.97M327.76 245.34H342.97" stroke="#999933" stroke-width="1.75" fill="none"/><path d="M331.96 219V242.7M339.4 219V242.7M327.76 237.9H342.97M327.76 230.45H342.97M327.76 223.01H342.97" stroke="#DDCC77" stroke-width="1.75" fill="none"/><path d="M331.96 194.7V219M339.4 194.7V219M327.76 215.56H342.97M327.76 208.12H342.97M327.76 200.68H342.97" stroke="#CC6677" stroke-width="1.75" fill="none"/><path d="M331.96 170.6V194.7M339.4 170.6V194.7M327.76 193.23H342.97M327.76 185.79H342.97M327.76 178.34H342.97M327.76 170.9H342.97" stroke="#AA4499" stroke-width="1.75" fill="none"/><rect x="327.76" y="499.4" width="15.21" height="42.6" fill="none" stroke="#332288" stroke-width="1.8"/><rect x="327.76" y="417" width="15.21" height="82.4" fill="none" stroke="#88CCEE" stroke-width="1.8"/><rect x="327.76" y="320.1" width="15.21" height="96.9" fill="none" stroke="#44AA99" stroke-width="1.8"/><rect x="327.76" y="303.5" width="15.21" height="16.6" fill="none" stroke="#117733" stroke-width="1.8"/><rect x="327.76" y="242.7" width="15.21" height="60.8" fill="none" stroke="#999933" stroke-width="1.8"/><rect x="327.76" y="219" width="15.21" height="23.7" fill="none" stroke="#DDCC77" stroke-width="1.8"/><rect x="327.76" y="194.7" width="15.21" height="24.3" fill="none" stroke="#CC6677" stroke-width="1.8"/><rect x="327.76" y="170.6" width="15.21" height="24.1" fill="none" stroke="#AA4499" stroke-width="1.8"/></g>
<g><path d="M342.16 1241.9H358.17V1287.5H342.16Z" fill="#332288"/><path d="M342.16 1196.1H358.17V1242.2H342.16Z" fill="#88CCEE"/><path d="M342.16 838.8H358.17V1196.4H342.16Z" fill="#44AA99"/><path d="M342.16 800H358.17V839.1H342.16Z" fill="#117733"/><path d="M342.16 555.3H358.17V800.3H342.16Z" fill="#999933"/><path d="M342.16 500.6H358.17V555.6H342.16Z" fill="#DDCC77"/><path d="M342.16 485.6H358.17V500.9H342.16Z" fill="#CC6677"/><path d="M346.84 444.5V485.6M354.29 444.5V485.6M342.97 483.55H358.17M342.97 476.1H358.17M342.97 468.66H358.17M342.97 461.22H358.17M342.97 453.77H358.17M342.97 446.33H358.17" stroke="#332288" stroke-width="1.75" fill="none"/><path d="M346.84 375.3V444.5M354.29 375.3V444.5M342.97 438.88H358.17M342.97 431.44H358.17M342.97 424H358.17M342.97 416.55H358.17M342.97 409.11H358.17M342.97 401.66H358.17M342.97 394.22H358.17M342.97 386.78H358.17M342.97 379.33H358.17" stroke="#88CCEE" stroke-width="1.75" fill="none"/><path d="M346.84 277.6V375.3M354.29 277.6V375.3M342.97 371.89H358.17M342.97 364.44H358.17M342.97 357H358.17M342.97 349.56H358.17M342.97 342.11H358.17M342.97 334.67H358.17M342.97 327.22H358.17M342.97 319.78H358.17M342.97 312.34H358.17M342.97 304.89H358.17M342.97 297.45H358.17M342.97 290H358.17M342.97 282.56H358.17" stroke="#44AA99" stroke-width="1.75" fill="none"/><path d="M346.84 259.9V277.6M354.29 259.9V277.6M342.97 275.12H358.17M342.97 267.67H358.17M342.97 260.23H358.17" stroke="#117733" stroke-width="1.75" fill="none"/><path d="M346.84 209.5V259.9M354.29 209.5V259.9M342.97 252.78H358.17M342.97 245.34H358.17M342.97 237.9H358.17M342.97 230.45H358.17M342.97 223.01H358.17M342.97 215.56H358.17" stroke="#999933" stroke-width="1.75" fill="none"/><path d="M346.84 185V209.5M354.29 185V209.5M342.97 208.12H358.17M342.97 200.68H358.17M342.97 193.23H358.17M342.97 185.79H358.17" stroke="#DDCC77" stroke-width="1.75" fill="none"/><path d="M346.84 154.2V185M354.29 154.2V185M342.97 178.34H358.17M342.97 170.9H358.17M342.97 163.46H358.17M342.97 156.01H358.17" stroke="#CC6677" stroke-width="1.75" fill="none"/><path d="M346.84 128.8V154.2M354.29 128.8V154.2M342.97 148.57H358.17M342.97 141.12H358.17M342.97 133.68H358.17" stroke="#AA4499" stroke-width="1.75" fill="none"/><rect x="342.97" y="444.5" width="15.2" height="41.1" fill="none" stroke="#332288" stroke-width="1.8"/><rect x="342.97" y="375.3" width="15.2" height="69.2" fill="none" stroke="#88CCEE" stroke-width="1.8"/><rect x="342.97" y="277.6" width="15.2" height="97.7" fill="none" stroke="#44AA99" stroke-width="1.8"/><rect x="342.97" y="259.9" width="15.2" height="17.7" fill="none" stroke="#117733" stroke-width="1.8"/><rect x="342.97" y="209.5" width="15.2" height="50.4" fill="none" stroke="#999933" stroke-width="1.8"/><rect x="342.97" y="185" width="15.2" height="24.5" fill="none" stroke="#DDCC77" stroke-width="1.8"/><rect x="342.97" y="154.2" width="15.2" height="30.8" fill="none" stroke="#CC6677" stroke-width="1.8"/><rect x="342.97" y="128.8" width="15.2" height="25.4" fill="none" stroke="#AA4499" stroke-width="1.8"/></g>
<g><path d="M357.37 1280.8H373.38V1287.5H357.37Z" fill="#332288"/><path d="M357.37 1224.7H373.38V1281.1H357.37Z" fill="#88CCEE"/><path d="M357.37 871.5H373.38V1225H357.37Z" fill="#44AA99"/><path d="M357.37 819.5H373.38V871.8H357.37Z" fill="#117733"/><path d="M357.37 573.2H373.38V819.8H357.37Z" fill="#999933"/><path d="M357.37 518.1H373.38V573.5H357.37Z" fill="#DDCC77"/><path d="M357.37 502.4H373.38V518.4H357.37Z" fill="#CC6677"/><path d="M361.73 460.7V502.4M369.18 460.7V502.4M358.17 498.44H373.38M358.17 490.99H373.38M358.17 483.55H373.38M358.17 476.1H373.38M358.17 468.66H373.38M358.17 461.22H373.38" stroke="#332288" stroke-width="1.75" fill="none"/><path d="M361.73 394.6V460.7M369.18 394.6V460.7M358.17 453.77H373.38M358.17 446.33H373.38M358.17 438.88H373.38M358.17 431.44H373.38M358.17 424H373.38M358.17 416.55H373.38M358.17 409.11H373.38M358.17 401.66H373.38" stroke="#88CCEE" stroke-width="1.75" fill="none"/><path d="M361.73 297.5V394.6M369.18 297.5V394.6M358.17 394.22H373.38M358.17 386.78H373.38M358.17 379.33H373.38M358.17 371.89H373.38M358.17 364.44H373.38M358.17 357H373.38M358.17 349.56H373.38M358.17 342.11H373.38M358.17 334.67H373.38M358.17 327.22H373.38M358.17 319.78H373.38M358.17 312.34H373.38M358.17 304.89H373.38" stroke="#44AA99" stroke-width="1.75" fill="none"/><path d="M361.73 280.3V297.5M369.18 280.3V297.5M358.17 290H373.38M358.17 282.56H373.38" stroke="#117733" stroke-width="1.75" fill="none"/><path d="M361.73 226.2V280.3M369.18 226.2V280.3M358.17 275.12H373.38M358.17 267.67H373.38M358.17 260.23H373.38M358.17 252.78H373.38M358.17 245.34H373.38M358.17 237.9H373.38M358.17 230.45H373.38" stroke="#999933" stroke-width="1.75" fill="none"/><path d="M361.73 200.7V226.2M369.18 200.7V226.2M358.17 223.01H373.38M358.17 215.56H373.38M358.17 208.12H373.38" stroke="#DDCC77" stroke-width="1.75" fill="none"/><path d="M361.73 169.6V200.7M369.18 169.6V200.7M358.17 193.23H373.38M358.17 185.79H373.38M358.17 178.34H373.38M358.17 170.9H373.38" stroke="#CC6677" stroke-width="1.75" fill="none"/><path d="M361.73 153.5V169.6M369.18 153.5V169.6M358.17 163.46H373.38M358.17 156.01H373.38" stroke="#AA4499" stroke-width="1.75" fill="none"/><rect x="358.17" y="460.7" width="15.2" height="41.7" fill="none" stroke="#332288" stroke-width="1.8"/><rect x="358.17" y="394.6" width="15.2" height="66.1" fill="none" stroke="#88CCEE" stroke-width="1.8"/><rect x="358.17" y="297.5" width="15.2" height="97.1" fill="none" stroke="#44AA99" stroke-width="1.8"/><rect x="358.17" y="280.3" width="15.2" height="17.2" fill="none" stroke="#117733" stroke-width="1.8"/><rect x="358.17" y="226.2" width="15.2" height="54.1" fill="none" stroke="#999933" stroke-width="1.8"/><rect x="358.17" y="200.7" width="15.2" height="25.5" fill="none" stroke="#DDCC77" stroke-width="1.8"/><rect x="358.17" y="169.6" width="15.2" height="31.1" fill="none" stroke="#CC6677" stroke-width="1.8"/><rect x="358.17" y="153.5" width="15.2" height="16.1" fill="none" stroke="#AA4499" stroke-width="1.8"/></g>
<g><path d="M372.57 1243H388.58V1287.5H372.57Z" fill="#332288"/><path d="M372.57 1205.3H388.58V1243.3H372.57Z" fill="#88CCEE"/><path d="M372.57 888.3H388.58V1205.6H372.57Z" fill="#44AA99"/><path d="M372.57 842.1H388.58V888.6H372.57Z" fill="#117733"/><path d="M372.57 590.9H388.58V842.4H372.57Z" fill="#999933"/><path d="M372.57 531H388.58V591.2H372.57Z" fill="#DDCC77"/><path d="M372.57 508H388.58V531.3H372.57Z" fill="#CC6677"/><path d="M376.62 467V508M384.06 467V508M373.38 505.88H388.58M373.38 498.44H388.58M373.38 490.99H388.58M373.38 483.55H388.58M373.38 476.1H388.58M373.38 468.66H388.58" stroke="#332288" stroke-width="1.75" fill="none"/><path d="M376.62 416V467M384.06 416V467M373.38 461.22H388.58M373.38 453.77H388.58M373.38 446.33H388.58M373.38 438.88H388.58M373.38 431.44H388.58M373.38 424H388.58M373.38 416.55H388.58" stroke="#88CCEE" stroke-width="1.75" fill="none"/><path d="M376.62 319V416M384.06 319V416M373.38 409.11H388.58M373.38 401.66H388.58M373.38 394.22H388.58M373.38 386.78H388.58M373.38 379.33H388.58M373.38 371.89H388.58M373.38 364.44H388.58M373.38 357H388.58M373.38 349.56H388.58M373.38 342.11H388.58M373.38 334.67H388.58M373.38 327.22H388.58M373.38 319.78H388.58" stroke="#44AA99" stroke-width="1.75" fill="none"/><path d="M376.62 300.2V319M384.06 300.2V319M373.38 312.34H388.58M373.38 304.89H388.58" stroke="#117733" stroke-width="1.75" fill="none"/><path d="M376.62 217.3V300.2M384.06 217.3V300.2M373.38 297.45H388.58M373.38 290H388.58M373.38 282.56H388.58M373.38 275.12H388.58M373.38 267.67H388.58M373.38 260.23H388.58M373.38 252.78H388.58M373.38 245.34H388.58M373.38 237.9H388.58M373.38 230.45H388.58M373.38 223.01H388.58" stroke="#999933" stroke-width="1.75" fill="none"/><path d="M376.62 193V217.3M384.06 193V217.3M373.38 215.56H388.58M373.38 208.12H388.58M373.38 200.68H388.58" stroke="#DDCC77" stroke-width="1.75" fill="none"/><path d="M376.62 165.2V193M384.06 165.2V193M373.38 185.79H388.58M373.38 178.34H388.58M373.38 170.9H388.58" stroke="#CC6677" stroke-width="1.75" fill="none"/><path d="M376.62 142.5V165.2M384.06 142.5V165.2M373.38 163.46H388.58M373.38 156.01H388.58M373.38 148.57H388.58" stroke="#AA4499" stroke-width="1.75" fill="none"/><rect x="373.38" y="467" width="15.21" height="41" fill="none" stroke="#332288" stroke-width="1.8"/><rect x="373.38" y="416" width="15.21" height="51" fill="none" stroke="#88CCEE" stroke-width="1.8"/><rect x="373.38" y="319" width="15.21" height="97" fill="none" stroke="#44AA99" stroke-width="1.8"/><rect x="373.38" y="300.2" width="15.21" height="18.8" fill="none" stroke="#117733" stroke-width="1.8"/><rect x="373.38" y="217.3" width="15.21" height="82.9" fill="none" stroke="#999933" stroke-width="1.8"/><rect x="373.38" y="193" width="15.21" height="24.3" fill="none" stroke="#DDCC77" stroke-width="1.8"/><rect x="373.38" y="165.2" width="15.21" height="27.8" fill="none" stroke="#CC6677" stroke-width="1.8"/><rect x="373.38" y="142.5" width="15.21" height="22.7" fill="none" stroke="#AA4499" stroke-width="1.8"/></g>
<g><path d="M387.78 1232.4H403.79V1287.5H387.78Z" fill="#332288"/><path d="M387.78 1199H403.79V1232.7H387.78Z" fill="#88CCEE"/><path d="M387.78 853.1H403.79V1199.3H387.78Z" fill="#44AA99"/><path d="M387.78 818.4H403.79V853.4H387.78Z" fill="#117733"/><path d="M387.78 581H403.79V818.7H387.78Z" fill="#999933"/><path d="M387.78 522.4H403.79V581.3H387.78Z" fill="#DDCC77"/><path d="M387.78 508.3H403.79V522.7H387.78Z" fill="#CC6677"/><path d="M391.51 476.2V508.3M398.95 476.2V508.3M388.58 505.88H403.79M388.58 498.44H403.79M388.58 490.99H403.79M388.58 483.55H403.79" stroke="#332288" stroke-width="1.75" fill="none"/><path d="M391.51 438.5V476.2M398.95 438.5V476.2M388.58 468.66H403.79M388.58 461.22H403.79M388.58 453.77H403.79M388.58 446.33H403.79M388.58 438.88H403.79" stroke="#88CCEE" stroke-width="1.75" fill="none"/><path d="M391.51 377V438.5M398.95 377V438.5M388.58 431.44H403.79M388.58 424H403.79M388.58 416.55H403.79M388.58 409.11H403.79M388.58 401.66H403.79M388.58 394.22H403.79M388.58 386.78H403.79M388.58 379.33H403.79" stroke="#44AA99" stroke-width="1.75" fill="none"/><path d="M391.51 366V377M398.95 366V377M388.58 371.89H403.79" stroke="#117733" stroke-width="1.75" fill="none"/><path d="M391.51 312V366M398.95 312V366M388.58 364.44H403.79M388.58 357H403.79M388.58 349.56H403.79M388.58 342.11H403.79M388.58 334.67H403.79M388.58 327.22H403.79M388.58 319.78H403.79M388.58 312.34H403.79" stroke="#999933" stroke-width="1.75" fill="none"/><path d="M391.51 293.5V312M398.95 293.5V312M388.58 304.89H403.79M388.58 297.45H403.79" stroke="#DDCC77" stroke-width="1.75" fill="none"/><path d="M391.51 265.3V293.5M398.95 265.3V293.5M388.58 290H403.79M388.58 282.56H403.79M388.58 275.12H403.79M388.58 267.67H403.79" stroke="#CC6677" stroke-width="1.75" fill="none"/><path d="M391.51 247.4V265.3M398.95 247.4V265.3M388.58 260.23H403.79M388.58 252.78H403.79" stroke="#AA4499" stroke-width="1.75" fill="none"/><rect x="388.58" y="476.2" width="15.2" height="32.1" fill="none" stroke="#332288" stroke-width="1.8"/><rect x="388.58" y="438.5" width="15.2" height="37.7" fill="none" stroke="#88CCEE" stroke-width="1.8"/><rect x="388.58" y="377" width="15.2" height="61.5" fill="none" stroke="#44AA99" stroke-width="1.8"/><rect x="388.58" y="366" width="15.2" height="11" fill="none" stroke="#117733" stroke-width="1.8"/><rect x="388.58" y="312" width="15.2" height="54" fill="none" stroke="#999933" stroke-width="1.8"/><rect x="388.58" y="293.5" width="15.2" height="18.5" fill="none" stroke="#DDCC77" stroke-width="1.8"/><rect x="388.58" y="265.3" width="15.2" height="28.2" fill="none" stroke="#CC6677" stroke-width="1.8"/><rect x="388.58" y="247.4" width="15.2" height="17.9" fill="none" stroke="#AA4499" stroke-width="1.8"/></g>
<g><path d="M402.99 1226.9H418.99V1287.5H402.99Z" fill="#332288"/><path d="M402.99 1199.8H418.99V1227.2H402.99Z" fill="#88CCEE"/><path d="M402.99 860.9H418.99V1200.1H402.99Z" fill="#44AA99"/><path d="M402.99 821.1H418.99V861.2H402.99Z" fill="#117733"/><path d="M402.99 605.3H418.99V821.4H402.99Z" fill="#999933"/><path d="M402.99 551.5H418.99V605.6H402.99Z" fill="#DDCC77"/><path d="M402.99 532.8H418.99V551.8H402.99Z" fill="#CC6677"/><path d="M406.4 500.2V532.8M413.84 500.2V532.8M403.79 528.21H418.99M403.79 520.77H418.99M403.79 513.32H418.99M403.79 505.88H418.99" stroke="#332288" stroke-width="1.75" fill="none"/><path d="M406.4 454.8V500.2M413.84 454.8V500.2M403.79 498.44H418.99M403.79 490.99H418.99M403.79 483.55H418.99M403.79 476.1H418.99M403.79 468.66H418.99M403.79 461.22H418.99" stroke="#88CCEE" stroke-width="1.75" fill="none"/><path d="M406.4 393.5V454.8M413.84 393.5V454.8M403.79 453.77H418.99M403.79 446.33H418.99M403.79 438.88H418.99M403.79 431.44H418.99M403.79 424H418.99M403.79 416.55H418.99M403.79 409.11H418.99M403.79 401.66H418.99M403.79 394.22H418.99" stroke="#44AA99" stroke-width="1.75" fill="none"/><path d="M406.4 383V393.5M413.84 383V393.5M403.79 386.78H418.99" stroke="#117733" stroke-width="1.75" fill="none"/><path d="M406.4 313.2V383M413.84 313.2V383M403.79 379.33H418.99M403.79 371.89H418.99M403.79 364.44H418.99M403.79 357H418.99M403.79 349.56H418.99M403.79 342.11H418.99M403.79 334.67H418.99M403.79 327.22H418.99M403.79 319.78H418.99" stroke="#999933" stroke-width="1.75" fill="none"/><path d="M406.4 290V313.2M413.84 290V313.2M403.79 312.34H418.99M403.79 304.89H418.99M403.79 297.45H418.99" stroke="#DDCC77" stroke-width="1.75" fill="none"/><path d="M406.4 264.6V290M413.84 264.6V290M403.79 282.56H418.99M403.79 275.12H418.99M403.79 267.67H418.99" stroke="#CC6677" stroke-width="1.75" fill="none"/><path d="M406.4 238.8V264.6M413.84 238.8V264.6M403.79 260.23H418.99M403.79 252.78H418.99M403.79 245.34H418.99" stroke="#AA4499" stroke-width="1.75" fill="none"/><rect x="403.79" y="500.2" width="15.2" height="32.6" fill="none" stroke="#332288" stroke-width="1.8"/><rect x="403.79" y="454.8" width="15.2" height="45.4" fill="none" stroke="#88CCEE" stroke-width="1.8"/><rect x="403.79" y="393.5" width="15.2" height="61.3" fill="none" stroke="#44AA99" stroke-width="1.8"/><rect x="403.79" y="383" width="15.2" height="10.5" fill="none" stroke="#117733" stroke-width="1.8"/><rect x="403.79" y="313.2" width="15.2" height="69.8" fill="none" stroke="#999933" stroke-width="1.8"/><rect x="403.79" y="290" width="15.2" height="23.2" fill="none" stroke="#DDCC77" stroke-width="1.8"/><rect x="403.79" y="264.6" width="15.2" height="25.4" fill="none" stroke="#CC6677" stroke-width="1.8"/><rect x="403.79" y="238.8" width="15.2" height="25.8" fill="none" stroke="#AA4499" stroke-width="1.8"/></g>
<g><path d="M418.19 1256H434.19V1287.5H418.19Z" fill="#332288"/><path d="M418.19 1224H434.19V1256.3H418.19Z" fill="#88CCEE"/><path d="M418.19 947.3H434.19V1224.3H418.19Z" fill="#44AA99"/><path d="M418.19 900.9H434.19V947.6H418.19Z" fill="#117733"/><path d="M418.19 717.3H434.19V901.2H418.19Z" fill="#999933"/><path d="M418.19 663.1H434.19V717.6H418.19Z" fill="#DDCC77"/><path d="M418.19 635.5H434.19V663.4H418.19Z" fill="#CC6677"/><path d="M421.28 603V635.5M428.73 603V635.5M418.99 632.43H434.19M418.99 624.98H434.19M418.99 617.54H434.19M418.99 610.1H434.19" stroke="#332288" stroke-width="1.75" fill="none"/><path d="M421.28 558.9V603M428.73 558.9V603M418.99 602.65H434.19M418.99 595.21H434.19M418.99 587.76H434.19M418.99 580.32H434.19M418.99 572.88H434.19M418.99 565.43H434.19" stroke="#88CCEE" stroke-width="1.75" fill="none"/><path d="M421.28 497.5V558.9M428.73 497.5V558.9M418.99 557.99H434.19M418.99 550.54H434.19M418.99 543.1H434.19M418.99 535.66H434.19M418.99 528.21H434.19M418.99 520.77H434.19M418.99 513.32H434.19M418.99 505.88H434.19M418.99 498.44H434.19" stroke="#44AA99" stroke-width="1.75" fill="none"/><path d="M421.28 486.5V497.5M428.73 486.5V497.5M418.99 490.99H434.19" stroke="#117733" stroke-width="1.75" fill="none"/><path d="M421.28 429V486.5M428.73 429V486.5M418.99 483.55H434.19M418.99 476.1H434.19M418.99 468.66H434.19M418.99 461.22H434.19M418.99 453.77H434.19M418.99 446.33H434.19M418.99 438.88H434.19M418.99 431.44H434.19" stroke="#999933" stroke-width="1.75" fill="none"/><path d="M421.28 402.1V429M428.73 402.1V429M418.99 424H434.19M418.99 416.55H434.19M418.99 409.11H434.19" stroke="#DDCC77" stroke-width="1.75" fill="none"/><path d="M421.28 361.8V402.1M428.73 361.8V402.1M418.99 401.66H434.19M418.99 394.22H434.19M418.99 386.78H434.19M418.99 379.33H434.19M418.99 371.89H434.19M418.99 364.44H434.19" stroke="#CC6677" stroke-width="1.75" fill="none"/><path d="M421.28 343.5V361.8M428.73 343.5V361.8M418.99 357H434.19M418.99 349.56H434.19" stroke="#AA4499" stroke-width="1.75" fill="none"/><rect x="418.99" y="603" width="15.2" height="32.5" fill="none" stroke="#332288" stroke-width="1.8"/><rect x="418.99" y="558.9" width="15.2" height="44.1" fill="none" stroke="#88CCEE" stroke-width="1.8"/><rect x="418.99" y="497.5" width="15.2" height="61.4" fill="none" stroke="#44AA99" stroke-width="1.8"/><rect x="418.99" y="486.5" width="15.2" height="11" fill="none" stroke="#117733" stroke-width="1.8"/><rect x="418.99" y="429" width="15.2" height="57.5" fill="none" stroke="#999933" stroke-width="1.8"/><rect x="418.99" y="402.1" width="15.2" height="26.9" fill="none" stroke="#DDCC77" stroke-width="1.8"/><rect x="418.99" y="361.8" width="15.2" height="40.3" fill="none" stroke="#CC6677" stroke-width="1.8"/><rect x="418.99" y="343.5" width="15.2" height="18.3" fill="none" stroke="#AA4499" stroke-width="1.8"/></g>
<g><path d="M433.39 1242.3H449.4V1287.5H433.39Z" fill="#332288"/><path d="M433.39 1210.4H449.4V1242.6H433.39Z" fill="#88CCEE"/><path d="M433.39 907.5H449.4V1210.7H433.39Z" fill="#44AA99"/><path d="M433.39 862.2H449.4V907.8H433.39Z" fill="#117733"/><path d="M433.39 700.5H449.4V862.5H433.39Z" fill="#999933"/><path d="M433.39 650.5H449.4V700.8H433.39Z" fill="#DDCC77"/><path d="M433.39 627.4H449.4V650.8H433.39Z" fill="#CC6677"/><path d="M436.17 595.6V627.4M443.62 595.6V627.4M434.19 624.98H449.4M434.19 617.54H449.4M434.19 610.1H449.4M434.19 602.65H449.4" stroke="#332288" stroke-width="1.75" fill="none"/><path d="M436.17 542V595.6M443.62 542V595.6M434.19 595.21H449.4M434.19 587.76H449.4M434.19 580.32H449.4M434.19 572.88H449.4M434.19 565.43H449.4M434.19 557.99H449.4M434.19 550.54H449.4M434.19 543.1H449.4" stroke="#88CCEE" stroke-width="1.75" fill="none"/><path d="M436.17 481.2V542M443.62 481.2V542M434.19 535.66H449.4M434.19 528.21H449.4M434.19 520.77H449.4M434.19 513.32H449.4M434.19 505.88H449.4M434.19 498.44H449.4M434.19 490.99H449.4M434.19 483.55H449.4" stroke="#44AA99" stroke-width="1.75" fill="none"/><path d="M436.17 470.6V481.2M443.62 470.6V481.2M434.19 476.1H449.4" stroke="#117733" stroke-width="1.75" fill="none"/><path d="M436.17 408.5V470.6M443.62 408.5V470.6M434.19 468.66H449.4M434.19 461.22H449.4M434.19 453.77H449.4M434.19 446.33H449.4M434.19 438.88H449.4M434.19 431.44H449.4M434.19 424H449.4M434.19 416.55H449.4M434.19 409.11H449.4" stroke="#999933" stroke-width="1.75" fill="none"/><path d="M436.17 387.5V408.5M443.62 387.5V408.5M434.19 401.66H449.4M434.19 394.22H449.4" stroke="#DDCC77" stroke-width="1.75" fill="none"/><path d="M436.17 358.5V387.5M443.62 358.5V387.5M434.19 386.78H449.4M434.19 379.33H449.4M434.19 371.89H449.4M434.19 364.44H449.4" stroke="#CC6677" stroke-width="1.75" fill="none"/><path d="M436.17 342.4V358.5M443.62 342.4V358.5M434.19 357H449.4M434.19 349.56H449.4" stroke="#AA4499" stroke-width="1.75" fill="none"/><rect x="434.19" y="595.6" width="15.21" height="31.8" fill="none" stroke="#332288" stroke-width="1.8"/><rect x="434.19" y="542" width="15.21" height="53.6" fill="none" stroke="#88CCEE" stroke-width="1.8"/><rect x="434.19" y="481.2" width="15.21" height="60.8" fill="none" stroke="#44AA99" stroke-width="1.8"/><rect x="434.19" y="470.6" width="15.21" height="10.6" fill="none" stroke="#117733" stroke-width="1.8"/><rect x="434.19" y="408.5" width="15.21" height="62.1" fill="none" stroke="#999933" stroke-width="1.8"/><rect x="434.19" y="387.5" width="15.21" height="21" fill="none" stroke="#DDCC77" stroke-width="1.8"/><rect x="434.19" y="358.5" width="15.21" height="29" fill="none" stroke="#CC6677" stroke-width="1.8"/><rect x="434.19" y="342.4" width="15.21" height="16.1" fill="none" stroke="#AA4499" stroke-width="1.8"/></g>
<g><path d="M448.6 1239H464.61V1287.5H448.6Z" fill="#332288"/><path d="M448.6 1197.9H464.61V1239.3H448.6Z" fill="#88CCEE"/><path d="M448.6 862H464.61V1198.2H448.6Z" fill="#44AA99"/><path d="M448.6 824.4H464.61V862.3H448.6Z" fill="#117733"/><path d="M448.6 627H464.61V824.7H448.6Z" fill="#999933"/><path d="M448.6 576.4H464.61V627.3H448.6Z" fill="#DDCC77"/><path d="M448.6 560.3H464.61V576.7H448.6Z" fill="#CC6677"/><path d="M451.06 527.1V560.3M458.5 527.1V560.3M449.4 557.99H464.61M449.4 550.54H464.61M449.4 543.1H464.61M449.4 535.66H464.61M449.4 528.21H464.61" stroke="#332288" stroke-width="1.75" fill="none"/><path d="M451.06 474V527.1M458.5 474V527.1M449.4 520.77H464.61M449.4 513.32H464.61M449.4 505.88H464.61M449.4 498.44H464.61M449.4 490.99H464.61M449.4 483.55H464.61M449.4 476.1H464.61" stroke="#88CCEE" stroke-width="1.75" fill="none"/><path d="M451.06 411.5V474M458.5 411.5V474M449.4 468.66H464.61M449.4 461.22H464.61M449.4 453.77H464.61M449.4 446.33H464.61M449.4 438.88H464.61M449.4 431.44H464.61M449.4 424H464.61M449.4 416.55H464.61" stroke="#44AA99" stroke-width="1.75" fill="none"/><path d="M451.06 402V411.5M458.5 402V411.5M449.4 409.11H464.61" stroke="#117733" stroke-width="1.75" fill="none"/><path d="M451.06 360.7V402M458.5 360.7V402M449.4 401.66H464.61M449.4 394.22H464.61M449.4 386.78H464.61M449.4 379.33H464.61M449.4 371.89H464.61M449.4 364.44H464.61" stroke="#999933" stroke-width="1.75" fill="none"/><path d="M451.06 346.4V360.7M458.5 346.4V360.7M449.4 357H464.61M449.4 349.56H464.61" stroke="#DDCC77" stroke-width="1.75" fill="none"/><path d="M451.06 327.6V346.4M458.5 327.6V346.4M449.4 342.11H464.61M449.4 334.67H464.61" stroke="#CC6677" stroke-width="1.75" fill="none"/><path d="M451.06 310.4V327.6M458.5 310.4V327.6M449.4 327.22H464.61M449.4 319.78H464.61M449.4 312.34H464.61" stroke="#AA4499" stroke-width="1.75" fill="none"/><rect x="449.4" y="527.1" width="15.2" height="33.2" fill="none" stroke="#332288" stroke-width="1.8"/><rect x="449.4" y="474" width="15.2" height="53.1" fill="none" stroke="#88CCEE" stroke-width="1.8"/><rect x="449.4" y="411.5" width="15.2" height="62.5" fill="none" stroke="#44AA99" stroke-width="1.8"/><rect x="449.4" y="402" width="15.2" height="9.5" fill="none" stroke="#117733" stroke-width="1.8"/><rect x="449.4" y="360.7" width="15.2" height="41.3" fill="none" stroke="#999933" stroke-width="1.8"/><rect x="449.4" y="346.4" width="15.2" height="14.3" fill="none" stroke="#DDCC77" stroke-width="1.8"/><rect x="449.4" y="327.6" width="15.2" height="18.8" fill="none" stroke="#CC6677" stroke-width="1.8"/><rect x="449.4" y="310.4" width="15.2" height="17.2" fill="none" stroke="#AA4499" stroke-width="1.8"/></g>
<g><path d="M463.81 1225.4H479.81V1287.5H463.81Z" fill="#332288"/><path d="M463.81 1181.8H479.81V1225.7H463.81Z" fill="#88CCEE"/><path d="M463.81 883.2H479.81V1182.1H463.81Z" fill="#44AA99"/><path d="M463.81 848.7H479.81V883.5H463.81Z" fill="#117733"/><path d="M463.81 665.8H479.81V849H463.81Z" fill="#999933"/><path d="M463.81 626H479.81V666.1H463.81Z" fill="#DDCC77"/><path d="M463.81 609.3H479.81V626.3H463.81Z" fill="#CC6677"/><path d="M465.95 541V609.3M473.39 541V609.3M464.61 602.65H479.81M464.61 595.21H479.81M464.61 587.76H479.81M464.61 580.32H479.81M464.61 572.88H479.81M464.61 565.43H479.81M464.61 557.99H479.81M464.61 550.54H479.81M464.61 543.1H479.81" stroke="#332288" stroke-width="1.75" fill="none"/><path d="M465.95 483V541M473.39 483V541M464.61 535.66H479.81M464.61 528.21H479.81M464.61 520.77H479.81M464.61 513.32H479.81M464.61 505.88H479.81M464.61 498.44H479.81M464.61 490.99H479.81M464.61 483.55H479.81" stroke="#88CCEE" stroke-width="1.75" fill="none"/><path d="M465.95 422.4V483M473.39 422.4V483M464.61 476.1H479.81M464.61 468.66H479.81M464.61 461.22H479.81M464.61 453.77H479.81M464.61 446.33H479.81M464.61 438.88H479.81M464.61 431.44H479.81M464.61 424H479.81" stroke="#44AA99" stroke-width="1.75" fill="none"/><path d="M465.95 411.5V422.4M473.39 411.5V422.4M464.61 416.55H479.81" stroke="#117733" stroke-width="1.75" fill="none"/><path d="M465.95 345V411.5M473.39 345V411.5M464.61 409.11H479.81M464.61 401.66H479.81M464.61 394.22H479.81M464.61 386.78H479.81M464.61 379.33H479.81M464.61 371.89H479.81M464.61 364.44H479.81M464.61 357H479.81M464.61 349.56H479.81" stroke="#999933" stroke-width="1.75" fill="none"/><path d="M465.95 313.5V345M473.39 313.5V345M464.61 342.11H479.81M464.61 334.67H479.81M464.61 327.22H479.81M464.61 319.78H479.81" stroke="#DDCC77" stroke-width="1.75" fill="none"/><path d="M465.95 282.3V313.5M473.39 282.3V313.5M464.61 312.34H479.81M464.61 304.89H479.81M464.61 297.45H479.81M464.61 290H479.81" stroke="#CC6677" stroke-width="1.75" fill="none"/><path d="M465.95 257.3V282.3M473.39 257.3V282.3M464.61 275.12H479.81M464.61 267.67H479.81M464.61 260.23H479.81" stroke="#AA4499" stroke-width="1.75" fill="none"/><rect x="464.61" y="541" width="15.2" height="68.3" fill="none" stroke="#332288" stroke-width="1.8"/><rect x="464.61" y="483" width="15.2" height="58" fill="none" stroke="#88CCEE" stroke-width="1.8"/><rect x="464.61" y="422.4" width="15.2" height="60.6" fill="none" stroke="#44AA99" stroke-width="1.8"/><rect x="464.61" y="411.5" width="15.2" height="10.9" fill="none" stroke="#117733" stroke-width="1.8"/><rect x="464.61" y="345" width="15.2" height="66.5" fill="none" stroke="#999933" stroke-width="1.8"/><rect x="464.61" y="313.5" width="15.2" height="31.5" fill="none" stroke="#DDCC77" stroke-width="1.8"/><rect x="464.61" y="282.3" width="15.2" height="31.2" fill="none" stroke="#CC6677" stroke-width="1.8"/><rect x="464.61" y="257.3" width="15.2" height="25" fill="none" stroke="#AA4499" stroke-width="1.8"/></g>
<g><path d="M479.01 1243.4H495.01V1287.5H479.01Z" fill="#332288"/><path d="M479.01 1204.2H495.01V1243.7H479.01Z" fill="#88CCEE"/><path d="M479.01 966H495.01V1204.5H479.01Z" fill="#44AA99"/><path d="M479.01 928.5H495.01V966.3H479.01Z" fill="#117733"/><path d="M479.01 725H495.01V928.8H479.01Z" fill="#999933"/><path d="M479.01 676H495.01V725.3H479.01Z" fill="#DDCC77"/><path d="M479.01 657.5H495.01V676.3H479.01Z" fill="#CC6677"/><path d="M480.84 584.2V657.5M488.28 584.2V657.5M479.81 654.76H495.01M479.81 647.32H495.01M479.81 639.87H495.01M479.81 632.43H495.01M479.81 624.98H495.01M479.81 617.54H495.01M479.81 610.1H495.01M479.81 602.65H495.01M479.81 595.21H495.01M479.81 587.76H495.01" stroke="#332288" stroke-width="1.75" fill="none"/><path d="M480.84 529.3V584.2M488.28 529.3V584.2M479.81 580.32H495.01M479.81 572.88H495.01M479.81 565.43H495.01M479.81 557.99H495.01M479.81 550.54H495.01M479.81 543.1H495.01M479.81 535.66H495.01" stroke="#88CCEE" stroke-width="1.75" fill="none"/><path d="M480.84 460.6V529.3M488.28 460.6V529.3M479.81 528.21H495.01M479.81 520.77H495.01M479.81 513.32H495.01M479.81 505.88H495.01M479.81 498.44H495.01M479.81 490.99H495.01M479.81 483.55H495.01M479.81 476.1H495.01M479.81 468.66H495.01M479.81 461.22H495.01" stroke="#44AA99" stroke-width="1.75" fill="none"/><path d="M480.84 451.7V460.6M488.28 451.7V460.6M479.81 453.77H495.01" stroke="#117733" stroke-width="1.75" fill="none"/><path d="M480.84 383.8V451.7M488.28 383.8V451.7M479.81 446.33H495.01M479.81 438.88H495.01M479.81 431.44H495.01M479.81 424H495.01M479.81 416.55H495.01M479.81 409.11H495.01M479.81 401.66H495.01M479.81 394.22H495.01M479.81 386.78H495.01" stroke="#999933" stroke-width="1.75" fill="none"/><path d="M480.84 362V383.8M488.28 362V383.8M479.81 379.33H495.01M479.81 371.89H495.01M479.81 364.44H495.01" stroke="#DDCC77" stroke-width="1.75" fill="none"/><path d="M480.84 308V362M488.28 308V362M479.81 357H495.01M479.81 349.56H495.01M479.81 342.11H495.01M479.81 334.67H495.01M479.81 327.22H495.01M479.81 319.78H495.01M479.81 312.34H495.01" stroke="#CC6677" stroke-width="1.75" fill="none"/><path d="M480.84 283.3V308M488.28 283.3V308M479.81 304.89H495.01M479.81 297.45H495.01M479.81 290H495.01" stroke="#AA4499" stroke-width="1.75" fill="none"/><rect x="479.81" y="584.2" width="15.2" height="73.3" fill="none" stroke="#332288" stroke-width="1.8"/><rect x="479.81" y="529.3" width="15.2" height="54.9" fill="none" stroke="#88CCEE" stroke-width="1.8"/><rect x="479.81" y="460.6" width="15.2" height="68.7" fill="none" stroke="#44AA99" stroke-width="1.8"/><rect x="479.81" y="451.7" width="15.2" height="8.9" fill="none" stroke="#117733" stroke-width="1.8"/><rect x="479.81" y="383.8" width="15.2" height="67.9" fill="none" stroke="#999933" stroke-width="1.8"/><rect x="479.81" y="362" width="15.2" height="21.8" fill="none" stroke="#DDCC77" stroke-width="1.8"/><rect x="479.81" y="308" width="15.2" height="54" fill="none" stroke="#CC6677" stroke-width="1.8"/><rect x="479.81" y="283.3" width="15.2" height="24.7" fill="none" stroke="#AA4499" stroke-width="1.8"/></g>
<g><path d="M494.21 1208.2H510.22V1287.5H494.21Z" fill="#332288"/><path d="M494.21 1169.3H510.22V1208.5H494.21Z" fill="#88CCEE"/><path d="M494.21 932.9H510.22V1169.6H494.21Z" fill="#44AA99"/><path d="M494.21 894.9H510.22V933.2H494.21Z" fill="#117733"/><path d="M494.21 708H510.22V895.2H494.21Z" fill="#999933"/><path d="M494.21 663H510.22V708.3H494.21Z" fill="#DDCC77"/><path d="M494.21 643H510.22V663.3H494.21Z" fill="#CC6677"/><path d="M495.72 597V643M503.17 597V643M495.01 639.87H510.22M495.01 632.43H510.22M495.01 624.98H510.22M495.01 617.54H510.22M495.01 610.1H510.22M495.01 602.65H510.22" stroke="#332288" stroke-width="1.75" fill="none"/><path d="M495.72 543.8V597M503.17 543.8V597M495.01 595.21H510.22M495.01 587.76H510.22M495.01 580.32H510.22M495.01 572.88H510.22M495.01 565.43H510.22M495.01 557.99H510.22M495.01 550.54H510.22" stroke="#88CCEE" stroke-width="1.75" fill="none"/><path d="M495.72 489.1V543.8M503.17 489.1V543.8M495.01 543.1H510.22M495.01 535.66H510.22M495.01 528.21H510.22M495.01 520.77H510.22M495.01 513.32H510.22M495.01 505.88H510.22M495.01 498.44H510.22M495.01 490.99H510.22" stroke="#44AA99" stroke-width="1.75" fill="none"/><path d="M495.72 480.6V489.1M503.17 480.6V489.1M495.01 483.55H510.22" stroke="#117733" stroke-width="1.75" fill="none"/><path d="M495.72 384.3V480.6M503.17 384.3V480.6M495.01 476.1H510.22M495.01 468.66H510.22M495.01 461.22H510.22M495.01 453.77H510.22M495.01 446.33H510.22M495.01 438.88H510.22M495.01 431.44H510.22M495.01 424H510.22M495.01 416.55H510.22M495.01 409.11H510.22M495.01 401.66H510.22M495.01 394.22H510.22M495.01 386.78H510.22" stroke="#999933" stroke-width="1.75" fill="none"/><path d="M495.72 359.5V384.3M503.17 359.5V384.3M495.01 379.33H510.22M495.01 371.89H510.22M495.01 364.44H510.22" stroke="#DDCC77" stroke-width="1.75" fill="none"/><path d="M495.72 332.3V359.5M503.17 332.3V359.5M495.01 357H510.22M495.01 349.56H510.22M495.01 342.11H510.22M495.01 334.67H510.22" stroke="#CC6677" stroke-width="1.75" fill="none"/><path d="M495.72 302.5V332.3M503.17 302.5V332.3M495.01 327.22H510.22M495.01 319.78H510.22M495.01 312.34H510.22M495.01 304.89H510.22" stroke="#AA4499" stroke-width="1.75" fill="none"/><rect x="495.01" y="597" width="15.21" height="46" fill="none" stroke="#332288" stroke-width="1.8"/><rect x="495.01" y="543.8" width="15.21" height="53.2" fill="none" stroke="#88CCEE" stroke-width="1.8"/><rect x="495.01" y="489.1" width="15.21" height="54.7" fill="none" stroke="#44AA99" stroke-width="1.8"/><rect x="495.01" y="480.6" width="15.21" height="8.5" fill="none" stroke="#117733" stroke-width="1.8"/><rect x="495.01" y="384.3" width="15.21" height="96.3" fill="none" stroke="#999933" stroke-width="1.8"/><rect x="495.01" y="359.5" width="15.21" height="24.8" fill="none" stroke="#DDCC77" stroke-width="1.8"/><rect x="495.01" y="332.3" width="15.21" height="27.2" fill="none" stroke="#CC6677" stroke-width="1.8"/><rect x="495.01" y="302.5" width="15.21" height="29.8" fill="none" stroke="#AA4499" stroke-width="1.8"/></g>
<g><path d="M509.42 1235.7H525.42V1287.5H509.42Z" fill="#332288"/><path d="M509.42 1199.8H525.42V1236H509.42Z" fill="#88CCEE"/><path d="M509.42 977.1H525.42V1200.1H509.42Z" fill="#44AA99"/><path d="M509.42 952.8H525.42V977.4H509.42Z" fill="#117733"/><path d="M509.42 759.2H525.42V953.1H509.42Z" fill="#999933"/><path d="M509.42 709.5H525.42V759.5H509.42Z" fill="#DDCC77"/><path d="M509.42 686.5H525.42V709.8H509.42Z" fill="#CC6677"/><path d="M510.61 597V686.5M518.06 597V686.5M510.22 684.54H525.42M510.22 677.09H525.42M510.22 669.65H525.42M510.22 662.2H525.42M510.22 654.76H525.42M510.22 647.32H525.42M510.22 639.87H525.42M510.22 632.43H525.42M510.22 624.98H525.42M510.22 617.54H525.42M510.22 610.1H525.42M510.22 602.65H525.42" stroke="#332288" stroke-width="1.75" fill="none"/><path d="M510.61 543.5V597M518.06 543.5V597M510.22 595.21H525.42M510.22 587.76H525.42M510.22 580.32H525.42M510.22 572.88H525.42M510.22 565.43H525.42M510.22 557.99H525.42M510.22 550.54H525.42" stroke="#88CCEE" stroke-width="1.75" fill="none"/><path d="M510.61 484.1V543.5M518.06 484.1V543.5M510.22 543.1H525.42M510.22 535.66H525.42M510.22 528.21H525.42M510.22 520.77H525.42M510.22 513.32H525.42M510.22 505.88H525.42M510.22 498.44H525.42M510.22 490.99H525.42" stroke="#44AA99" stroke-width="1.75" fill="none"/><path d="M510.61 478.4V484.1M518.06 478.4V484.1M510.22 483.55H525.42" stroke="#117733" stroke-width="1.75" fill="none"/><path d="M510.61 408V478.4M518.06 408V478.4M510.22 476.1H525.42M510.22 468.66H525.42M510.22 461.22H525.42M510.22 453.77H525.42M510.22 446.33H525.42M510.22 438.88H525.42M510.22 431.44H525.42M510.22 424H525.42M510.22 416.55H525.42M510.22 409.11H525.42" stroke="#999933" stroke-width="1.75" fill="none"/><path d="M510.61 390.3V408M518.06 390.3V408M510.22 401.66H525.42M510.22 394.22H525.42" stroke="#DDCC77" stroke-width="1.75" fill="none"/><path d="M510.61 371.2V390.3M518.06 371.2V390.3M510.22 386.78H525.42M510.22 379.33H525.42M510.22 371.89H525.42" stroke="#CC6677" stroke-width="1.75" fill="none"/><path d="M510.61 347.1V371.2M518.06 347.1V371.2M510.22 364.44H525.42M510.22 357H525.42M510.22 349.56H525.42" stroke="#AA4499" stroke-width="1.75" fill="none"/><rect x="510.22" y="597" width="15.2" height="89.5" fill="none" stroke="#332288" stroke-width="1.8"/><rect x="510.22" y="543.5" width="15.2" height="53.5" fill="none" stroke="#88CCEE" stroke-width="1.8"/><rect x="510.22" y="484.1" width="15.2" height="59.4" fill="none" stroke="#44AA99" stroke-width="1.8"/><rect x="510.22" y="478.4" width="15.2" height="5.7" fill="none" stroke="#117733" stroke-width="1.8"/><rect x="510.22" y="408" width="15.2" height="70.4" fill="none" stroke="#999933" stroke-width="1.8"/><rect x="510.22" y="390.3" width="15.2" height="17.7" fill="none" stroke="#DDCC77" stroke-width="1.8"/><rect x="510.22" y="371.2" width="15.2" height="19.1" fill="none" stroke="#CC6677" stroke-width="1.8"/><rect x="510.22" y="347.1" width="15.2" height="24.1" fill="none" stroke="#AA4499" stroke-width="1.8"/></g>
<g><path d="M524.62 1247.4H540.63V1287.5H524.62Z" fill="#332288"/><path d="M524.62 1215.9H540.63V1247.7H524.62Z" fill="#88CCEE"/><path d="M524.62 993.6H540.63V1216.2H524.62Z" fill="#44AA99"/><path d="M524.62 974.9H540.63V993.9H524.62Z" fill="#117733"/><path d="M524.62 792.4H540.63V975.2H524.62Z" fill="#999933"/><path d="M524.62 743.8H540.63V792.7H524.62Z" fill="#DDCC77"/><path d="M524.62 710H540.63V744.1H524.62Z" fill="#CC6677"/><path d="M532.94 608.7V710M525.42 706.87H540.63M525.42 699.42H540.63M525.42 691.98H540.63M525.42 684.54H540.63M525.42 677.09H540.63M525.42 669.65H540.63M525.42 662.2H540.63M525.42 654.76H540.63M525.42 647.32H540.63M525.42 639.87H540.63M525.42 632.43H540.63M525.42 624.98H540.63M525.42 617.54H540.63M525.42 610.1H540.63" stroke="#332288" stroke-width="1.75" fill="none"/><path d="M532.94 542V608.7M525.42 602.65H540.63M525.42 595.21H540.63M525.42 587.76H540.63M525.42 580.32H540.63M525.42 572.88H540.63M525.42 565.43H540.63M525.42 557.99H540.63M525.42 550.54H540.63M525.42 543.1H540.63" stroke="#88CCEE" stroke-width="1.75" fill="none"/><path d="M532.94 478.3V542M525.42 535.66H540.63M525.42 528.21H540.63M525.42 520.77H540.63M525.42 513.32H540.63M525.42 505.88H540.63M525.42 498.44H540.63M525.42 490.99H540.63M525.42 483.55H540.63" stroke="#44AA99" stroke-width="1.75" fill="none"/><path d="M532.94 471.4V478.3M525.42 476.1H540.63" stroke="#117733" stroke-width="1.75" fill="none"/><path d="M532.94 396.9V471.4M525.42 468.66H540.63M525.42 461.22H540.63M525.42 453.77H540.63M525.42 446.33H540.63M525.42 438.88H540.63M525.42 431.44H540.63M525.42 424H540.63M525.42 416.55H540.63M525.42 409.11H540.63M525.42 401.66H540.63" stroke="#999933" stroke-width="1.75" fill="none"/><path d="M532.94 377.2V396.9M525.42 394.22H540.63M525.42 386.78H540.63M525.42 379.33H540.63" stroke="#DDCC77" stroke-width="1.75" fill="none"/><path d="M532.94 351V377.2M525.42 371.89H540.63M525.42 364.44H540.63M525.42 357H540.63" stroke="#CC6677" stroke-width="1.75" fill="none"/><path d="M532.94 325.1V351M525.42 349.56H540.63M525.42 342.11H540.63M525.42 334.67H540.63M525.42 327.22H540.63" stroke="#AA4499" stroke-width="1.75" fill="none"/><rect x="525.42" y="608.7" width="15.21" height="101.3" fill="none" stroke="#332288" stroke-width="1.8"/><rect x="525.42" y="542" width="15.21" height="66.7" fill="none" stroke="#88CCEE" stroke-width="1.8"/><rect x="525.42" y="478.3" width="15.21" height="63.7" fill="none" stroke="#44AA99" stroke-width="1.8"/><rect x="525.42" y="471.4" width="15.21" height="6.9" fill="none" stroke="#117733" stroke-width="1.8"/><rect x="525.42" y="396.9" width="15.21" height="74.5" fill="none" stroke="#999933" stroke-width="1.8"/><rect x="525.42" y="377.2" width="15.21" height="19.7" fill="none" stroke="#DDCC77" stroke-width="1.8"/><rect x="525.42" y="351" width="15.21" height="26.2" fill="none" stroke="#CC6677" stroke-width="1.8"/><rect x="525.42" y="325.1" width="15.21" height="25.9" fill="none" stroke="#AA4499" stroke-width="1.8"/></g>
<g><path d="M539.83 1236.4H555.84V1287.5H539.83Z" fill="#332288"/><path d="M539.83 1196.1H555.84V1236.7H539.83Z" fill="#88CCEE"/><path d="M539.83 983.7H555.84V1196.4H539.83Z" fill="#44AA99"/><path d="M539.83 957.2H555.84V984H539.83Z" fill="#117733"/><path d="M539.83 790.2H555.84V957.5H539.83Z" fill="#999933"/><path d="M539.83 752.6H555.84V790.5H539.83Z" fill="#DDCC77"/><path d="M539.83 716H555.84V752.9H539.83Z" fill="#CC6677"/><path d="M547.83 574.7V716M555.28 574.7V716M540.63 714.31H555.84M540.63 706.87H555.84M540.63 699.42H555.84M540.63 691.98H555.84M540.63 684.54H555.84M540.63 677.09H555.84M540.63 669.65H555.84M540.63 662.2H555.84M540.63 654.76H555.84M540.63 647.32H555.84M540.63 639.87H555.84M540.63 632.43H555.84M540.63 624.98H555.84M540.63 617.54H555.84M540.63 610.1H555.84M540.63 602.65H555.84M540.63 595.21H555.84M540.63 587.76H555.84M540.63 580.32H555.84" stroke="#332288" stroke-width="1.75" fill="none"/><path d="M547.83 492.5V574.7M555.28 492.5V574.7M540.63 572.88H555.84M540.63 565.43H555.84M540.63 557.99H555.84M540.63 550.54H555.84M540.63 543.1H555.84M540.63 535.66H555.84M540.63 528.21H555.84M540.63 520.77H555.84M540.63 513.32H555.84M540.63 505.88H555.84M540.63 498.44H555.84" stroke="#88CCEE" stroke-width="1.75" fill="none"/><path d="M547.83 343.2V492.5M555.28 343.2V492.5M540.63 490.99H555.84M540.63 483.55H555.84M540.63 476.1H555.84M540.63 468.66H555.84M540.63 461.22H555.84M540.63 453.77H555.84M540.63 446.33H555.84M540.63 438.88H555.84M540.63 431.44H555.84M540.63 424H555.84M540.63 416.55H555.84M540.63 409.11H555.84M540.63 401.66H555.84M540.63 394.22H555.84M540.63 386.78H555.84M540.63 379.33H555.84M540.63 371.89H555.84M540.63 364.44H555.84M540.63 357H555.84M540.63 349.56H555.84" stroke="#44AA99" stroke-width="1.75" fill="none"/><path d="M547.83 336V343.2M555.28 336V343.2M540.63 342.11H555.84" stroke="#117733" stroke-width="1.75" fill="none"/><path d="M547.83 245.9V336M555.28 245.9V336M540.63 334.67H555.84M540.63 327.22H555.84M540.63 319.78H555.84M540.63 312.34H555.84M540.63 304.89H555.84M540.63 297.45H555.84M540.63 290H555.84M540.63 282.56H555.84M540.63 275.12H555.84M540.63 267.67H555.84M540.63 260.23H555.84M540.63 252.78H555.84" stroke="#999933" stroke-width="1.75" fill="none"/><path d="M547.83 216V245.9M555.28 216V245.9M540.63 245.34H555.84M540.63 237.9H555.84M540.63 230.45H555.84M540.63 223.01H555.84" stroke="#DDCC77" stroke-width="1.75" fill="none"/><path d="M547.83 181V216M555.28 181V216M540.63 215.56H555.84M540.63 208.12H555.84M540.63 200.68H555.84M540.63 193.23H555.84M540.63 185.79H555.84" stroke="#CC6677" stroke-width="1.75" fill="none"/><path d="M547.83 152V181M555.28 152V181M540.63 178.34H555.84M540.63 170.9H555.84M540.63 163.46H555.84M540.63 156.01H555.84" stroke="#AA4499" stroke-width="1.75" fill="none"/><rect x="540.63" y="574.7" width="15.21" height="141.3" fill="none" stroke="#332288" stroke-width="1.8"/><rect x="540.63" y="492.5" width="15.21" height="82.2" fill="none" stroke="#88CCEE" stroke-width="1.8"/><rect x="540.63" y="343.2" width="15.21" height="149.3" fill="none" stroke="#44AA99" stroke-width="1.8"/><rect x="540.63" y="336" width="15.21" height="7.2" fill="none" stroke="#117733" stroke-width="1.8"/><rect x="540.63" y="245.9" width="15.21" height="90.1" fill="none" stroke="#999933" stroke-width="1.8"/><rect x="540.63" y="216" width="15.21" height="29.9" fill="none" stroke="#DDCC77" stroke-width="1.8"/><rect x="540.63" y="181" width="15.21" height="35" fill="none" stroke="#CC6677" stroke-width="1.8"/><rect x="540.63" y="152" width="15.21" height="29" fill="none" stroke="#AA4499" stroke-width="1.8"/></g>
<g><path d="M555.04 1246.3H571.04V1287.5H555.04Z" fill="#332288"/><path d="M555.04 1204.2H571.04V1246.6H555.04Z" fill="#88CCEE"/><path d="M555.04 964.4H571.04V1204.5H555.04Z" fill="#44AA99"/><path d="M555.04 935.7H571.04V964.7H555.04Z" fill="#117733"/><path d="M555.04 749.9H571.04V936H555.04Z" fill="#999933"/><path d="M555.04 707.9H571.04V750.2H555.04Z" fill="#DDCC77"/><path d="M555.04 675.9H571.04V708.2H555.04Z" fill="#CC6677"/><path d="M562.72 499V675.9M570.16 499V675.9M555.84 669.65H571.04M555.84 662.2H571.04M555.84 654.76H571.04M555.84 647.32H571.04M555.84 639.87H571.04M555.84 632.43H571.04M555.84 624.98H571.04M555.84 617.54H571.04M555.84 610.1H571.04M555.84 602.65H571.04M555.84 595.21H571.04M555.84 587.76H571.04M555.84 580.32H571.04M555.84 572.88H571.04M555.84 565.43H571.04M555.84 557.99H571.04M555.84 550.54H571.04M555.84 543.1H571.04M555.84 535.66H571.04M555.84 528.21H571.04M555.84 520.77H571.04M555.84 513.32H571.04M555.84 505.88H571.04" stroke="#332288" stroke-width="1.75" fill="none"/><path d="M562.72 415.2V499M570.16 415.2V499M555.84 498.44H571.04M555.84 490.99H571.04M555.84 483.55H571.04M555.84 476.1H571.04M555.84 468.66H571.04M555.84 461.22H571.04M555.84 453.77H571.04M555.84 446.33H571.04M555.84 438.88H571.04M555.84 431.44H571.04M555.84 424H571.04M555.84 416.55H571.04" stroke="#88CCEE" stroke-width="1.75" fill="none"/><path d="M562.72 237.5V415.2M570.16 237.5V415.2M555.84 409.11H571.04M555.84 401.66H571.04M555.84 394.22H571.04M555.84 386.78H571.04M555.84 379.33H571.04M555.84 371.89H571.04M555.84 364.44H571.04M555.84 357H571.04M555.84 349.56H571.04M555.84 342.11H571.04M555.84 334.67H571.04M555.84 327.22H571.04M555.84 319.78H571.04M555.84 312.34H571.04M555.84 304.89H571.04M555.84 297.45H571.04M555.84 290H571.04M555.84 282.56H571.04M555.84 275.12H571.04M555.84 267.67H571.04M555.84 260.23H571.04M555.84 252.78H571.04M555.84 245.34H571.04M555.84 237.9H571.04" stroke="#44AA99" stroke-width="1.75" fill="none"/><path d="M562.72 228.6V237.5M570.16 228.6V237.5M555.84 230.45H571.04" stroke="#117733" stroke-width="1.75" fill="none"/><path d="M562.72 138V228.6M570.16 138V228.6M555.84 223.01H571.04M555.84 215.56H571.04M555.84 208.12H571.04M555.84 200.68H571.04M555.84 193.23H571.04M555.84 185.79H571.04M555.84 178.34H571.04M555.84 170.9H571.04M555.84 163.46H571.04M555.84 156.01H571.04M555.84 148.57H571.04M555.84 141.12H571.04" stroke="#999933" stroke-width="1.75" fill="none"/><path d="M562.72 119.3V138M570.16 119.3V138M555.84 133.68H571.04M555.84 126.24H571.04" stroke="#DDCC77" stroke-width="1.75" fill="none"/><path d="M562.72 85V119.3M570.16 85V119.3M555.84 118.79H571.04M555.84 111.35H571.04M555.84 103.9H571.04M555.84 96.46H571.04M555.84 89.02H571.04" stroke="#CC6677" stroke-width="1.75" fill="none"/><path d="M562.72 57V85M570.16 57V85M555.84 81.57H571.04M555.84 74.13H571.04M555.84 66.68H571.04M555.84 59.24H571.04" stroke="#AA4499" stroke-width="1.75" fill="none"/><rect x="555.84" y="499" width="15.2" height="176.9" fill="none" stroke="#332288" stroke-width="1.8"/><rect x="555.84" y="415.2" width="15.2" height="83.8" fill="none" stroke="#88CCEE" stroke-width="1.8"/><rect x="555.84" y="237.5" width="15.2" height="177.7" fill="none" stroke="#44AA99" stroke-width="1.8"/><rect x="555.84" y="228.6" width="15.2" height="8.9" fill="none" stroke="#117733" stroke-width="1.8"/><rect x="555.84" y="138" width="15.2" height="90.6" fill="none" stroke="#999933" stroke-width="1.8"/><rect x="555.84" y="119.3" width="15.2" height="18.7" fill="none" stroke="#DDCC77" stroke-width="1.8"/><rect x="555.84" y="85" width="15.2" height="34.3" fill="none" stroke="#CC6677" stroke-width="1.8"/><rect x="555.84" y="57" width="15.2" height="28" fill="none" stroke="#AA4499" stroke-width="1.8"/></g>
<g><path d="M570.24 1218.5H586.24V1287.5H570.24Z" fill="#332288"/><path d="M570.24 1175.9H586.24V1218.8H570.24Z" fill="#88CCEE"/><path d="M570.24 930.7H586.24V1176.2H570.24Z" fill="#44AA99"/><path d="M570.24 903.3H586.24V931H570.24Z" fill="#117733"/><path d="M570.24 739.9H586.24V903.6H570.24Z" fill="#999933"/><path d="M570.24 695.7H586.24V740.2H570.24Z" fill="#DDCC77"/><path d="M570.24 657.1H586.24V696H570.24Z" fill="#CC6677"/><path d="M577.61 549V657.1M585.05 549V657.1M571.04 654.76H586.25M571.04 647.32H586.25M571.04 639.87H586.25M571.04 632.43H586.25M571.04 624.98H586.25M571.04 617.54H586.25M571.04 610.1H586.25M571.04 602.65H586.25M571.04 595.21H586.25M571.04 587.76H586.25M571.04 580.32H586.25M571.04 572.88H586.25M571.04 565.43H586.25M571.04 557.99H586.25M571.04 550.54H586.25" stroke="#332288" stroke-width="1.75" fill="none"/><path d="M577.61 430.2V549M585.05 430.2V549M571.04 543.1H586.25M571.04 535.66H586.25M571.04 528.21H586.25M571.04 520.77H586.25M571.04 513.32H586.25M571.04 505.88H586.25M571.04 498.44H586.25M571.04 490.99H586.25M571.04 483.55H586.25M571.04 476.1H586.25M571.04 468.66H586.25M571.04 461.22H586.25M571.04 453.77H586.25M571.04 446.33H586.25M571.04 438.88H586.25M571.04 431.44H586.25" stroke="#88CCEE" stroke-width="1.75" fill="none"/><path d="M577.61 240.8V430.2M585.05 240.8V430.2M571.04 424H586.25M571.04 416.55H586.25M571.04 409.11H586.25M571.04 401.66H586.25M571.04 394.22H586.25M571.04 386.78H586.25M571.04 379.33H586.25M571.04 371.89H586.25M571.04 364.44H586.25M571.04 357H586.25M571.04 349.56H586.25M571.04 342.11H586.25M571.04 334.67H586.25M571.04 327.22H586.25M571.04 319.78H586.25M571.04 312.34H586.25M571.04 304.89H586.25M571.04 297.45H586.25M571.04 290H586.25M571.04 282.56H586.25M571.04 275.12H586.25M571.04 267.67H586.25M571.04 260.23H586.25M571.04 252.78H586.25M571.04 245.34H586.25" stroke="#44AA99" stroke-width="1.75" fill="none"/><path d="M577.61 230.8V240.8M585.05 230.8V240.8M571.04 237.9H586.25" stroke="#117733" stroke-width="1.75" fill="none"/><path d="M577.61 102.7V230.8M585.05 102.7V230.8M571.04 230.45H586.25M571.04 223.01H586.25M571.04 215.56H586.25M571.04 208.12H586.25M571.04 200.68H586.25M571.04 193.23H586.25M571.04 185.79H586.25M571.04 178.34H586.25M571.04 170.9H586.25M571.04 163.46H586.25M571.04 156.01H586.25M571.04 148.57H586.25M571.04 141.12H586.25M571.04 133.68H586.25M571.04 126.24H586.25M571.04 118.79H586.25M571.04 111.35H586.25M571.04 103.9H586.25" stroke="#999933" stroke-width="1.75" fill="none"/><path d="M577.61 77.3V102.7M585.05 77.3V102.7M571.04 96.46H586.25M571.04 89.02H586.25M571.04 81.57H586.25" stroke="#DDCC77" stroke-width="1.75" fill="none"/><path d="M577.61 43.1V77.3M585.05 43.1V77.3M571.04 74.13H586.25M571.04 66.68H586.25M571.04 59.24H586.25M571.04 51.8H586.25M571.04 44.35H586.25" stroke="#CC6677" stroke-width="1.75" fill="none"/><path d="M577.61 3.8V43.1M585.05 3.8V43.1M571.04 36.91H586.25M571.04 29.46H586.25M571.04 22.02H586.25M571.04 14.58H586.25M571.04 7.13H586.25" stroke="#AA4499" stroke-width="1.75" fill="none"/><rect x="571.04" y="549" width="15.21" height="108.1" fill="none" stroke="#332288" stroke-width="1.8"/><rect x="571.04" y="430.2" width="15.21" height="118.8" fill="none" stroke="#88CCEE" stroke-width="1.8"/><rect x="571.04" y="240.8" width="15.21" height="189.4" fill="none" stroke="#44AA99" stroke-width="1.8"/><rect x="571.04" y="230.8" width="15.21" height="10" fill="none" stroke="#117733" stroke-width="1.8"/><rect x="571.04" y="102.7" width="15.21" height="128.1" fill="none" stroke="#999933" stroke-width="1.8"/><rect x="571.04" y="77.3" width="15.21" height="25.4" fill="none" stroke="#DDCC77" stroke-width="1.8"/><rect x="571.04" y="43.1" width="15.21" height="34.2" fill="none" stroke="#CC6677" stroke-width="1.8"/><rect x="571.04" y="3.8" width="15.21" height="39.3" fill="none" stroke="#AA4499" stroke-width="1.8"/></g>
<g><path d="M585.44 1229.8H601.45V1287.5H585.44Z" fill="#332288"/><path d="M585.44 1185.8H601.45V1230.1H585.44Z" fill="#88CCEE"/><path d="M585.44 957.8H601.45V1186.1H585.44Z" fill="#44AA99"/><path d="M585.44 932.4H601.45V958.1H585.44Z" fill="#117733"/><path d="M585.44 768.6H601.45V932.7H585.44Z" fill="#999933"/><path d="M585.44 725.6H601.45V768.9H585.44Z" fill="#DDCC77"/><path d="M585.44 694.6H601.45V725.9H585.44Z" fill="#CC6677"/><path d="M592.5 641.6V694.6M599.94 641.6V694.6M586.25 691.98H601.45M586.25 684.54H601.45M586.25 677.09H601.45M586.25 669.65H601.45M586.25 662.2H601.45M586.25 654.76H601.45M586.25 647.32H601.45" stroke="#332288" stroke-width="1.75" fill="none"/><path d="M592.5 580.9V641.6M599.94 580.9V641.6M586.25 639.87H601.45M586.25 632.43H601.45M586.25 624.98H601.45M586.25 617.54H601.45M586.25 610.1H601.45M586.25 602.65H601.45M586.25 595.21H601.45M586.25 587.76H601.45" stroke="#88CCEE" stroke-width="1.75" fill="none"/><path d="M592.5 400.4V580.9M599.94 400.4V580.9M586.25 580.32H601.45M586.25 572.88H601.45M586.25 565.43H601.45M586.25 557.99H601.45M586.25 550.54H601.45M586.25 543.1H601.45M586.25 535.66H601.45M586.25 528.21H601.45M586.25 520.77H601.45M586.25 513.32H601.45M586.25 505.88H601.45M586.25 498.44H601.45M586.25 490.99H601.45M586.25 483.55H601.45M586.25 476.1H601.45M586.25 468.66H601.45M586.25 461.22H601.45M586.25 453.77H601.45M586.25 446.33H601.45M586.25 438.88H601.45M586.25 431.44H601.45M586.25 424H601.45M586.25 416.55H601.45M586.25 409.11H601.45M586.25 401.66H601.45" stroke="#44AA99" stroke-width="1.75" fill="none"/><path d="M592.5 386V400.4M599.94 386V400.4M586.25 394.22H601.45M586.25 386.78H601.45" stroke="#117733" stroke-width="1.75" fill="none"/><path d="M592.5 298V386M599.94 298V386M586.25 379.33H601.45M586.25 371.89H601.45M586.25 364.44H601.45M586.25 357H601.45M586.25 349.56H601.45M586.25 342.11H601.45M586.25 334.67H601.45M586.25 327.22H601.45M586.25 319.78H601.45M586.25 312.34H601.45M586.25 304.89H601.45" stroke="#999933" stroke-width="1.75" fill="none"/><path d="M592.5 276.1V298M599.94 276.1V298M586.25 297.45H601.45M586.25 290H601.45M586.25 282.56H601.45" stroke="#DDCC77" stroke-width="1.75" fill="none"/><path d="M592.5 248.5V276.1M599.94 248.5V276.1M586.25 275.12H601.45M586.25 267.67H601.45M586.25 260.23H601.45M586.25 252.78H601.45" stroke="#CC6677" stroke-width="1.75" fill="none"/><path d="M592.5 201V248.5M599.94 201V248.5M586.25 245.34H601.45M586.25 237.9H601.45M586.25 230.45H601.45M586.25 223.01H601.45M586.25 215.56H601.45M586.25 208.12H601.45" stroke="#AA4499" stroke-width="1.75" fill="none"/><rect x="586.25" y="641.6" width="15.21" height="53" fill="none" stroke="#332288" stroke-width="1.8"/><rect x="586.25" y="580.9" width="15.21" height="60.7" fill="none" stroke="#88CCEE" stroke-width="1.8"/><rect x="586.25" y="400.4" width="15.21" height="180.5" fill="none" stroke="#44AA99" stroke-width="1.8"/><rect x="586.25" y="386" width="15.21" height="14.4" fill="none" stroke="#117733" stroke-width="1.8"/><rect x="586.25" y="298" width="15.21" height="88" fill="none" stroke="#999933" stroke-width="1.8"/><rect x="586.25" y="276.1" width="15.21" height="21.9" fill="none" stroke="#DDCC77" stroke-width="1.8"/><rect x="586.25" y="248.5" width="15.21" height="27.6" fill="none" stroke="#CC6677" stroke-width="1.8"/><rect x="586.25" y="201" width="15.21" height="47.5" fill="none" stroke="#AA4499" stroke-width="1.8"/></g>
<g><path d="M600.65 1216.6H616.65V1287.5H600.65Z" fill="#332288"/><path d="M600.65 1173.4H616.65V1216.9H600.65Z" fill="#88CCEE"/><path d="M600.65 940.6H616.65V1173.7H600.65Z" fill="#44AA99"/><path d="M600.65 910.3H616.65V940.9H600.65Z" fill="#117733"/><path d="M600.65 762H616.65V910.6H600.65Z" fill="#999933"/><path d="M600.65 726.7H616.65V762.3H600.65Z" fill="#DDCC77"/><path d="M600.65 697.9H616.65V727H600.65Z" fill="#CC6677"/><path d="M607.38 639.4V697.9M614.83 639.4V697.9M601.45 691.98H616.65M601.45 684.54H616.65M601.45 677.09H616.65M601.45 669.65H616.65M601.45 662.2H616.65M601.45 654.76H616.65M601.45 647.32H616.65M601.45 639.87H616.65" stroke="#332288" stroke-width="1.75" fill="none"/><path d="M607.38 594.1V639.4M614.83 594.1V639.4M601.45 632.43H616.65M601.45 624.98H616.65M601.45 617.54H616.65M601.45 610.1H616.65M601.45 602.65H616.65M601.45 595.21H616.65" stroke="#88CCEE" stroke-width="1.75" fill="none"/><path d="M607.38 484.3V594.1M614.83 484.3V594.1M601.45 587.76H616.65M601.45 580.32H616.65M601.45 572.88H616.65M601.45 565.43H616.65M601.45 557.99H616.65M601.45 550.54H616.65M601.45 543.1H616.65M601.45 535.66H616.65M601.45 528.21H616.65M601.45 520.77H616.65M601.45 513.32H616.65M601.45 505.88H616.65M601.45 498.44H616.65M601.45 490.99H616.65" stroke="#44AA99" stroke-width="1.75" fill="none"/><path d="M607.38 473.3V484.3M614.83 473.3V484.3M601.45 483.55H616.65M601.45 476.1H616.65" stroke="#117733" stroke-width="1.75" fill="none"/><path d="M607.38 394.9V473.3M614.83 394.9V473.3M601.45 468.66H616.65M601.45 461.22H616.65M601.45 453.77H616.65M601.45 446.33H616.65M601.45 438.88H616.65M601.45 431.44H616.65M601.45 424H616.65M601.45 416.55H616.65M601.45 409.11H616.65M601.45 401.66H616.65" stroke="#999933" stroke-width="1.75" fill="none"/><path d="M607.38 376.1V394.9M614.83 376.1V394.9M601.45 394.22H616.65M601.45 386.78H616.65M601.45 379.33H616.65" stroke="#DDCC77" stroke-width="1.75" fill="none"/><path d="M607.38 341.9V376.1M614.83 341.9V376.1M601.45 371.89H616.65M601.45 364.44H616.65M601.45 357H616.65M601.45 349.56H616.65" stroke="#CC6677" stroke-width="1.75" fill="none"/><path d="M607.38 314.2V341.9M614.83 314.2V341.9M601.45 334.67H616.65M601.45 327.22H616.65M601.45 319.78H616.65" stroke="#AA4499" stroke-width="1.75" fill="none"/><rect x="601.45" y="639.4" width="15.2" height="58.5" fill="none" stroke="#332288" stroke-width="1.8"/><rect x="601.45" y="594.1" width="15.2" height="45.3" fill="none" stroke="#88CCEE" stroke-width="1.8"/><rect x="601.45" y="484.3" width="15.2" height="109.8" fill="none" stroke="#44AA99" stroke-width="1.8"/><rect x="601.45" y="473.3" width="15.2" height="11" fill="none" stroke="#117733" stroke-width="1.8"/><rect x="601.45" y="394.9" width="15.2" height="78.4" fill="none" stroke="#999933" stroke-width="1.8"/><rect x="601.45" y="376.1" width="15.2" height="18.8" fill="none" stroke="#DDCC77" stroke-width="1.8"/><rect x="601.45" y="341.9" width="15.2" height="34.2" fill="none" stroke="#CC6677" stroke-width="1.8"/><rect x="601.45" y="314.2" width="15.2" height="27.7" fill="none" stroke="#AA4499" stroke-width="1.8"/></g>
<g><path d="M615.86 1218.8H631.86V1287.5H615.86Z" fill="#332288"/><path d="M615.86 1176.7H631.86V1219.1H615.86Z" fill="#88CCEE"/><path d="M615.86 951.2H631.86V1177H615.86Z" fill="#44AA99"/><path d="M615.86 924.7H631.86V951.5H615.86Z" fill="#117733"/><path d="M615.86 777.5H631.86V925H615.86Z" fill="#999933"/><path d="M615.86 747.6H631.86V777.8H615.86Z" fill="#DDCC77"/><path d="M615.86 704.6H631.86V747.9H615.86Z" fill="#CC6677"/><path d="M622.27 651.6V704.6M629.72 651.6V704.6M616.65 699.42H631.86M616.65 691.98H631.86M616.65 684.54H631.86M616.65 677.09H631.86M616.65 669.65H631.86M616.65 662.2H631.86M616.65 654.76H631.86" stroke="#332288" stroke-width="1.75" fill="none"/><path d="M622.27 608.5V651.6M629.72 608.5V651.6M616.65 647.32H631.86M616.65 639.87H631.86M616.65 632.43H631.86M616.65 624.98H631.86M616.65 617.54H631.86M616.65 610.1H631.86" stroke="#88CCEE" stroke-width="1.75" fill="none"/><path d="M622.27 525.2V608.5M629.72 525.2V608.5M616.65 602.65H631.86M616.65 595.21H631.86M616.65 587.76H631.86M616.65 580.32H631.86M616.65 572.88H631.86M616.65 565.43H631.86M616.65 557.99H631.86M616.65 550.54H631.86M616.65 543.1H631.86M616.65 535.66H631.86M616.65 528.21H631.86" stroke="#44AA99" stroke-width="1.75" fill="none"/><path d="M622.27 514.2V525.2M629.72 514.2V525.2M616.65 520.77H631.86" stroke="#117733" stroke-width="1.75" fill="none"/><path d="M622.27 423.6V514.2M629.72 423.6V514.2M616.65 513.32H631.86M616.65 505.88H631.86M616.65 498.44H631.86M616.65 490.99H631.86M616.65 483.55H631.86M616.65 476.1H631.86M616.65 468.66H631.86M616.65 461.22H631.86M616.65 453.77H631.86M616.65 446.33H631.86M616.65 438.88H631.86M616.65 431.44H631.86M616.65 424H631.86" stroke="#999933" stroke-width="1.75" fill="none"/><path d="M622.27 405.9V423.6M629.72 405.9V423.6M616.65 416.55H631.86M616.65 409.11H631.86" stroke="#DDCC77" stroke-width="1.75" fill="none"/><path d="M622.27 370.6V405.9M629.72 370.6V405.9M616.65 401.66H631.86M616.65 394.22H631.86M616.65 386.78H631.86M616.65 379.33H631.86M616.65 371.89H631.86" stroke="#CC6677" stroke-width="1.75" fill="none"/><path d="M622.27 339.6V370.6M629.72 339.6V370.6M616.65 364.44H631.86M616.65 357H631.86M616.65 349.56H631.86M616.65 342.11H631.86" stroke="#AA4499" stroke-width="1.75" fill="none"/><rect x="616.65" y="651.6" width="15.21" height="53" fill="none" stroke="#332288" stroke-width="1.8"/><rect x="616.65" y="608.5" width="15.21" height="43.1" fill="none" stroke="#88CCEE" stroke-width="1.8"/><rect x="616.65" y="525.2" width="15.21" height="83.3" fill="none" stroke="#44AA99" stroke-width="1.8"/><rect x="616.65" y="514.2" width="15.21" height="11" fill="none" stroke="#117733" stroke-width="1.8"/><rect x="616.65" y="423.6" width="15.21" height="90.6" fill="none" stroke="#999933" stroke-width="1.8"/><rect x="616.65" y="405.9" width="15.21" height="17.7" fill="none" stroke="#DDCC77" stroke-width="1.8"/><rect x="616.65" y="370.6" width="15.21" height="35.3" fill="none" stroke="#CC6677" stroke-width="1.8"/><rect x="616.65" y="339.6" width="15.21" height="31" fill="none" stroke="#AA4499" stroke-width="1.8"/></g>
<g><path d="M631.06 1203.4H647.06V1287.5H631.06Z" fill="#332288"/><path d="M631.06 1164.2H647.06V1203.7H631.06Z" fill="#88CCEE"/><path d="M631.06 924H647.06V1164.5H631.06Z" fill="#44AA99"/><path d="M631.06 894.2H647.06V924.3H631.06Z" fill="#117733"/><path d="M631.06 739.9H647.06V894.5H631.06Z" fill="#999933"/><path d="M631.06 703.5H647.06V740.2H631.06Z" fill="#DDCC77"/><path d="M631.06 661.5H647.06V703.8H631.06Z" fill="#CC6677"/><path d="M637.16 644.9V661.5M644.6 644.9V661.5M631.86 654.76H647.07M631.86 647.32H647.07" stroke="#332288" stroke-width="1.75" fill="none"/><path d="M637.16 591.9V644.9M644.6 591.9V644.9M631.86 639.87H647.07M631.86 632.43H647.07M631.86 624.98H647.07M631.86 617.54H647.07M631.86 610.1H647.07M631.86 602.65H647.07M631.86 595.21H647.07" stroke="#88CCEE" stroke-width="1.75" fill="none"/><path d="M637.16 532.9V591.9M644.6 532.9V591.9M631.86 587.76H647.07M631.86 580.32H647.07M631.86 572.88H647.07M631.86 565.43H647.07M631.86 557.99H647.07M631.86 550.54H647.07M631.86 543.1H647.07M631.86 535.66H647.07" stroke="#44AA99" stroke-width="1.75" fill="none"/><path d="M637.16 525.2V532.9M644.6 525.2V532.9M631.86 528.21H647.07" stroke="#117733" stroke-width="1.75" fill="none"/><path d="M637.16 460V525.2M644.6 460V525.2M631.86 520.77H647.07M631.86 513.32H647.07M631.86 505.88H647.07M631.86 498.44H647.07M631.86 490.99H647.07M631.86 483.55H647.07M631.86 476.1H647.07M631.86 468.66H647.07M631.86 461.22H647.07" stroke="#999933" stroke-width="1.75" fill="none"/><path d="M637.16 440.1V460M644.6 440.1V460M631.86 453.77H647.07M631.86 446.33H647.07" stroke="#DDCC77" stroke-width="1.75" fill="none"/><path d="M637.16 410.3V440.1M644.6 410.3V440.1M631.86 438.88H647.07M631.86 431.44H647.07M631.86 424H647.07M631.86 416.55H647.07" stroke="#CC6677" stroke-width="1.75" fill="none"/><path d="M637.16 392.2V410.3M644.6 392.2V410.3M631.86 409.11H647.07M631.86 401.66H647.07M631.86 394.22H647.07" stroke="#AA4499" stroke-width="1.75" fill="none"/><rect x="631.86" y="644.9" width="15.21" height="16.6" fill="none" stroke="#332288" stroke-width="1.8"/><rect x="631.86" y="591.9" width="15.21" height="53" fill="none" stroke="#88CCEE" stroke-width="1.8"/><rect x="631.86" y="532.9" width="15.21" height="59" fill="none" stroke="#44AA99" stroke-width="1.8"/><rect x="631.86" y="525.2" width="15.21" height="7.7" fill="none" stroke="#117733" stroke-width="1.8"/><rect x="631.86" y="460" width="15.21" height="65.2" fill="none" stroke="#999933" stroke-width="1.8"/><rect x="631.86" y="440.1" width="15.21" height="19.9" fill="none" stroke="#DDCC77" stroke-width="1.8"/><rect x="631.86" y="410.3" width="15.21" height="29.8" fill="none" stroke="#CC6677" stroke-width="1.8"/><rect x="631.86" y="392.2" width="15.21" height="18.1" fill="none" stroke="#AA4499" stroke-width="1.8"/></g>
<g><path d="M646.26 1204.5H662.27V1287.5H646.26Z" fill="#332288"/><path d="M646.26 1166H662.27V1204.8H646.26Z" fill="#88CCEE"/><path d="M646.26 949.6H662.27V1166.3H646.26Z" fill="#44AA99"/><path d="M646.26 926.9H662.27V949.9H646.26Z" fill="#117733"/><path d="M646.26 773H662.27V927.2H646.26Z" fill="#999933"/><path d="M646.26 744.3H662.27V773.3H646.26Z" fill="#DDCC77"/><path d="M646.26 694.6H662.27V744.6H646.26Z" fill="#CC6677"/><path d="M652.05 683.6V694.6M659.49 683.6V694.6M647.07 691.98H662.27M647.07 684.54H662.27" stroke="#332288" stroke-width="1.75" fill="none"/><path d="M652.05 648.2V683.6M659.49 648.2V683.6M647.07 677.09H662.27M647.07 669.65H662.27M647.07 662.2H662.27M647.07 654.76H662.27" stroke="#88CCEE" stroke-width="1.75" fill="none"/><path d="M652.05 553.6V648.2M659.49 553.6V648.2M647.07 647.32H662.27M647.07 639.87H662.27M647.07 632.43H662.27M647.07 624.98H662.27M647.07 617.54H662.27M647.07 610.1H662.27M647.07 602.65H662.27M647.07 595.21H662.27M647.07 587.76H662.27M647.07 580.32H662.27M647.07 572.88H662.27M647.07 565.43H662.27M647.07 557.99H662.27" stroke="#44AA99" stroke-width="1.75" fill="none"/><path d="M652.05 544V553.6M659.49 544V553.6M647.07 550.54H662.27" stroke="#117733" stroke-width="1.75" fill="none"/><path d="M652.05 478.8V544M659.49 478.8V544M647.07 543.1H662.27M647.07 535.66H662.27M647.07 528.21H662.27M647.07 520.77H662.27M647.07 513.32H662.27M647.07 505.88H662.27M647.07 498.44H662.27M647.07 490.99H662.27M647.07 483.55H662.27" stroke="#999933" stroke-width="1.75" fill="none"/><path d="M652.05 460V478.8M659.49 460V478.8M647.07 476.1H662.27M647.07 468.66H662.27M647.07 461.22H662.27" stroke="#DDCC77" stroke-width="1.75" fill="none"/><path d="M652.05 431.3V460M659.49 431.3V460M647.07 453.77H662.27M647.07 446.33H662.27M647.07 438.88H662.27" stroke="#CC6677" stroke-width="1.75" fill="none"/><path d="M652.05 418.7V431.3M659.49 418.7V431.3M647.07 424H662.27" stroke="#AA4499" stroke-width="1.75" fill="none"/><rect x="647.07" y="683.6" width="15.2" height="11" fill="none" stroke="#332288" stroke-width="1.8"/><rect x="647.07" y="648.2" width="15.2" height="35.4" fill="none" stroke="#88CCEE" stroke-width="1.8"/><rect x="647.07" y="553.6" width="15.2" height="94.6" fill="none" stroke="#44AA99" stroke-width="1.8"/><rect x="647.07" y="544" width="15.2" height="9.6" fill="none" stroke="#117733" stroke-width="1.8"/><rect x="647.07" y="478.8" width="15.2" height="65.2" fill="none" stroke="#999933" stroke-width="1.8"/><rect x="647.07" y="460" width="15.2" height="18.8" fill="none" stroke="#DDCC77" stroke-width="1.8"/><rect x="647.07" y="431.3" width="15.2" height="28.7" fill="none" stroke="#CC6677" stroke-width="1.8"/><rect x="647.07" y="418.7" width="15.2" height="12.6" fill="none" stroke="#AA4499" stroke-width="1.8"/></g>
<g><path d="M661.47 1219.2H677.47V1287.5H661.47Z" fill="#332288"/><path d="M661.47 1182.9H677.47V1219.5H661.47Z" fill="#88CCEE"/><path d="M661.47 948.3H677.47V1183.2H661.47Z" fill="#44AA99"/><path d="M661.47 925.4H677.47V948.6H661.47Z" fill="#117733"/><path d="M661.47 775.3H677.47V925.7H661.47Z" fill="#999933"/><path d="M661.47 741H677.47V775.6H661.47Z" fill="#DDCC77"/><path d="M661.47 705.7H677.47V741.3H661.47Z" fill="#CC6677"/><path d="M666.94 699V705.7M674.38 699V705.7M662.27 699.42H677.47" stroke="#332288" stroke-width="1.75" fill="none"/><path d="M666.94 650.4V699M674.38 650.4V699M662.27 691.98H677.47M662.27 684.54H677.47M662.27 677.09H677.47M662.27 669.65H677.47M662.27 662.2H677.47M662.27 654.76H677.47" stroke="#88CCEE" stroke-width="1.75" fill="none"/><path d="M666.94 557.5V650.4M674.38 557.5V650.4M662.27 647.32H677.47M662.27 639.87H677.47M662.27 632.43H677.47M662.27 624.98H677.47M662.27 617.54H677.47M662.27 610.1H677.47M662.27 602.65H677.47M662.27 595.21H677.47M662.27 587.76H677.47M662.27 580.32H677.47M662.27 572.88H677.47M662.27 565.43H677.47M662.27 557.99H677.47" stroke="#44AA99" stroke-width="1.75" fill="none"/><path d="M666.94 548.4V557.5M674.38 548.4V557.5M662.27 550.54H677.47" stroke="#117733" stroke-width="1.75" fill="none"/><path d="M666.94 482.1V548.4M674.38 482.1V548.4M662.27 543.1H677.47M662.27 535.66H677.47M662.27 528.21H677.47M662.27 520.77H677.47M662.27 513.32H677.47M662.27 505.88H677.47M662.27 498.44H677.47M662.27 490.99H677.47M662.27 483.55H677.47" stroke="#999933" stroke-width="1.75" fill="none"/><path d="M666.94 461.1V482.1M674.38 461.1V482.1M662.27 476.1H677.47M662.27 468.66H677.47" stroke="#DDCC77" stroke-width="1.75" fill="none"/><path d="M666.94 432.4V461.1M674.38 432.4V461.1M662.27 453.77H677.47M662.27 446.33H677.47M662.27 438.88H677.47" stroke="#CC6677" stroke-width="1.75" fill="none"/><path d="M666.94 421.4V432.4M674.38 421.4V432.4M662.27 431.44H677.47M662.27 424H677.47" stroke="#AA4499" stroke-width="1.75" fill="none"/><rect x="662.27" y="699" width="15.2" height="6.7" fill="none" stroke="#332288" stroke-width="1.8"/><rect x="662.27" y="650.4" width="15.2" height="48.6" fill="none" stroke="#88CCEE" stroke-width="1.8"/><rect x="662.27" y="557.5" width="15.2" height="92.9" fill="none" stroke="#44AA99" stroke-width="1.8"/><rect x="662.27" y="548.4" width="15.2" height="9.1" fill="none" stroke="#117733" stroke-width="1.8"/><rect x="662.27" y="482.1" width="15.2" height="66.3" fill="none" stroke="#999933" stroke-width="1.8"/><rect x="662.27" y="461.1" width="15.2" height="21" fill="none" stroke="#DDCC77" stroke-width="1.8"/><rect x="662.27" y="432.4" width="15.2" height="28.7" fill="none" stroke="#CC6677" stroke-width="1.8"/><rect x="662.27" y="421.4" width="15.2" height="11" fill="none" stroke="#AA4499" stroke-width="1.8"/></g>
<g><path d="M676.67 1217H692.68V1287.5H676.67Z" fill="#332288"/><path d="M676.67 1179.6H692.68V1217.3H676.67Z" fill="#88CCEE"/><path d="M676.67 934H692.68V1179.9H676.67Z" fill="#44AA99"/><path d="M676.67 913.6H692.68V934.3H676.67Z" fill="#117733"/><path d="M676.67 767.5H692.68V913.9H676.67Z" fill="#999933"/><path d="M676.67 728.9H692.68V767.8H676.67Z" fill="#DDCC77"/><path d="M676.67 696.8H692.68V729.2H676.67Z" fill="#CC6677"/><path d="M681.82 675.9V696.8M689.27 675.9V696.8M677.47 691.98H692.68M677.47 684.54H692.68M677.47 677.09H692.68" stroke="#332288" stroke-width="1.75" fill="none"/><path d="M681.82 631.7V675.9M689.27 631.7V675.9M677.47 669.65H692.68M677.47 662.2H692.68M677.47 654.76H692.68M677.47 647.32H692.68M677.47 639.87H692.68M677.47 632.43H692.68" stroke="#88CCEE" stroke-width="1.75" fill="none"/><path d="M681.82 468.9V631.7M689.27 468.9V631.7M677.47 624.98H692.68M677.47 617.54H692.68M677.47 610.1H692.68M677.47 602.65H692.68M677.47 595.21H692.68M677.47 587.76H692.68M677.47 580.32H692.68M677.47 572.88H692.68M677.47 565.43H692.68M677.47 557.99H692.68M677.47 550.54H692.68M677.47 543.1H692.68M677.47 535.66H692.68M677.47 528.21H692.68M677.47 520.77H692.68M677.47 513.32H692.68M677.47 505.88H692.68M677.47 498.44H692.68M677.47 490.99H692.68M677.47 483.55H692.68M677.47 476.1H692.68" stroke="#44AA99" stroke-width="1.75" fill="none"/><path d="M681.82 459.4V468.9M689.27 459.4V468.9M677.47 461.22H692.68" stroke="#117733" stroke-width="1.75" fill="none"/><path d="M681.82 365V459.4M689.27 365V459.4M677.47 453.77H692.68M677.47 446.33H692.68M677.47 438.88H692.68M677.47 431.44H692.68M677.47 424H692.68M677.47 416.55H692.68M677.47 409.11H692.68M677.47 401.66H692.68M677.47 394.22H692.68M677.47 386.78H692.68M677.47 379.33H692.68M677.47 371.89H692.68" stroke="#999933" stroke-width="1.75" fill="none"/><path d="M681.82 346.3V365M689.27 346.3V365M677.47 364.44H692.68M677.47 357H692.68M677.47 349.56H692.68" stroke="#DDCC77" stroke-width="1.75" fill="none"/><path d="M681.82 320.9V346.3M689.27 320.9V346.3M677.47 342.11H692.68M677.47 334.67H692.68M677.47 327.22H692.68" stroke="#CC6677" stroke-width="1.75" fill="none"/><path d="M681.82 306.5V320.9M689.27 306.5V320.9M677.47 319.78H692.68M677.47 312.34H692.68" stroke="#AA4499" stroke-width="1.75" fill="none"/><rect x="677.47" y="675.9" width="15.21" height="20.9" fill="none" stroke="#332288" stroke-width="1.8"/><rect x="677.47" y="631.7" width="15.21" height="44.2" fill="none" stroke="#88CCEE" stroke-width="1.8"/><rect x="677.47" y="468.9" width="15.21" height="162.8" fill="none" stroke="#44AA99" stroke-width="1.8"/><rect x="677.47" y="459.4" width="15.21" height="9.5" fill="none" stroke="#117733" stroke-width="1.8"/><rect x="677.47" y="365" width="15.21" height="94.4" fill="none" stroke="#999933" stroke-width="1.8"/><rect x="677.47" y="346.3" width="15.21" height="18.7" fill="none" stroke="#DDCC77" stroke-width="1.8"/><rect x="677.47" y="320.9" width="15.21" height="25.4" fill="none" stroke="#CC6677" stroke-width="1.8"/><rect x="677.47" y="306.5" width="15.21" height="14.4" fill="none" stroke="#AA4499" stroke-width="1.8"/></g>
<g><path d="M691.88 1202.7H707.88V1287.5H691.88Z" fill="#332288"/><path d="M691.88 1168H707.88V1203H691.88Z" fill="#88CCEE"/><path d="M691.88 935.7H707.88V1168.3H691.88Z" fill="#44AA99"/><path d="M691.88 910.3H707.88V936H691.88Z" fill="#117733"/><path d="M691.88 765.3H707.88V910.6H691.88Z" fill="#999933"/><path d="M691.88 727.8H707.88V765.6H691.88Z" fill="#DDCC77"/><path d="M691.88 703.5H707.88V728.1H691.88Z" fill="#CC6677"/><path d="M696.71 684.3V703.5M704.16 684.3V703.5M692.68 699.42H707.88M692.68 691.98H707.88" stroke="#332288" stroke-width="1.75" fill="none"/><path d="M696.71 613.5V684.3M704.16 613.5V684.3M692.68 677.09H707.88M692.68 669.65H707.88M692.68 662.2H707.88M692.68 654.76H707.88M692.68 647.32H707.88M692.68 639.87H707.88M692.68 632.43H707.88M692.68 624.98H707.88M692.68 617.54H707.88" stroke="#88CCEE" stroke-width="1.75" fill="none"/><path d="M696.71 477.9V613.5M704.16 477.9V613.5M692.68 610.1H707.88M692.68 602.65H707.88M692.68 595.21H707.88M692.68 587.76H707.88M692.68 580.32H707.88M692.68 572.88H707.88M692.68 565.43H707.88M692.68 557.99H707.88M692.68 550.54H707.88M692.68 543.1H707.88M692.68 535.66H707.88M692.68 528.21H707.88M692.68 520.77H707.88M692.68 513.32H707.88M692.68 505.88H707.88M692.68 498.44H707.88M692.68 490.99H707.88M692.68 483.55H707.88" stroke="#44AA99" stroke-width="1.75" fill="none"/><path d="M696.71 467.8V477.9M704.16 467.8V477.9M692.68 476.1H707.88M692.68 468.66H707.88" stroke="#117733" stroke-width="1.75" fill="none"/><path d="M696.71 376.1V467.8M704.16 376.1V467.8M692.68 461.22H707.88M692.68 453.77H707.88M692.68 446.33H707.88M692.68 438.88H707.88M692.68 431.44H707.88M692.68 424H707.88M692.68 416.55H707.88M692.68 409.11H707.88M692.68 401.66H707.88M692.68 394.22H707.88M692.68 386.78H707.88M692.68 379.33H707.88" stroke="#999933" stroke-width="1.75" fill="none"/><path d="M696.71 356.2V376.1M704.16 356.2V376.1M692.68 371.89H707.88M692.68 364.44H707.88M692.68 357H707.88" stroke="#DDCC77" stroke-width="1.75" fill="none"/><path d="M696.71 328.6V356.2M704.16 328.6V356.2M692.68 349.56H707.88M692.68 342.11H707.88M692.68 334.67H707.88" stroke="#CC6677" stroke-width="1.75" fill="none"/><path d="M696.71 309.8V328.6M704.16 309.8V328.6M692.68 327.22H707.88M692.68 319.78H707.88M692.68 312.34H707.88" stroke="#AA4499" stroke-width="1.75" fill="none"/><rect x="692.68" y="684.3" width="15.2" height="19.2" fill="none" stroke="#332288" stroke-width="1.8"/><rect x="692.68" y="613.5" width="15.2" height="70.8" fill="none" stroke="#88CCEE" stroke-width="1.8"/><rect x="692.68" y="477.9" width="15.2" height="135.6" fill="none" stroke="#44AA99" stroke-width="1.8"/><rect x="692.68" y="467.8" width="15.2" height="10.1" fill="none" stroke="#117733" stroke-width="1.8"/><rect x="692.68" y="376.1" width="15.2" height="91.7" fill="none" stroke="#999933" stroke-width="1.8"/><rect x="692.68" y="356.2" width="15.2" height="19.9" fill="none" stroke="#DDCC77" stroke-width="1.8"/><rect x="692.68" y="328.6" width="15.2" height="27.6" fill="none" stroke="#CC6677" stroke-width="1.8"/><rect x="692.68" y="309.8" width="15.2" height="18.8" fill="none" stroke="#AA4499" stroke-width="1.8"/></g>
<g><path d="M707.09 1202.3H723.09V1287.5H707.09Z" fill="#332288"/><path d="M707.09 1164.6H723.09V1202.6H707.09Z" fill="#88CCEE"/><path d="M707.09 927.6H723.09V1164.9H707.09Z" fill="#44AA99"/><path d="M707.09 902.2H723.09V927.9H707.09Z" fill="#117733"/><path d="M707.09 757.6H723.09V902.5H707.09Z" fill="#999933"/><path d="M707.09 723.3H723.09V757.9H707.09Z" fill="#DDCC77"/><path d="M707.09 697.7H723.09V723.6H707.09Z" fill="#CC6677"/><path d="M711.6 655.1V697.7M719.04 655.1V697.7M707.88 691.98H723.09M707.88 684.54H723.09M707.88 677.09H723.09M707.88 669.65H723.09M707.88 662.2H723.09" stroke="#332288" stroke-width="1.75" fill="none"/><path d="M711.6 558.5V655.1M719.04 558.5V655.1M707.88 654.76H723.09M707.88 647.32H723.09M707.88 639.87H723.09M707.88 632.43H723.09M707.88 624.98H723.09M707.88 617.54H723.09M707.88 610.1H723.09M707.88 602.65H723.09M707.88 595.21H723.09M707.88 587.76H723.09M707.88 580.32H723.09M707.88 572.88H723.09M707.88 565.43H723.09" stroke="#88CCEE" stroke-width="1.75" fill="none"/><path d="M711.6 429.1V558.5M719.04 429.1V558.5M707.88 557.99H723.09M707.88 550.54H723.09M707.88 543.1H723.09M707.88 535.66H723.09M707.88 528.21H723.09M707.88 520.77H723.09M707.88 513.32H723.09M707.88 505.88H723.09M707.88 498.44H723.09M707.88 490.99H723.09M707.88 483.55H723.09M707.88 476.1H723.09M707.88 468.66H723.09M707.88 461.22H723.09M707.88 453.77H723.09M707.88 446.33H723.09M707.88 438.88H723.09M707.88 431.44H723.09" stroke="#44AA99" stroke-width="1.75" fill="none"/><path d="M711.6 421.4V429.1M719.04 421.4V429.1M707.88 424H723.09" stroke="#117733" stroke-width="1.75" fill="none"/><path d="M711.6 357.3V421.4M719.04 357.3V421.4M707.88 416.55H723.09M707.88 409.11H723.09M707.88 401.66H723.09M707.88 394.22H723.09M707.88 386.78H723.09M707.88 379.33H723.09M707.88 371.89H723.09M707.88 364.44H723.09" stroke="#999933" stroke-width="1.75" fill="none"/><path d="M711.6 338.5V357.3M719.04 338.5V357.3M707.88 349.56H723.09M707.88 342.11H723.09" stroke="#DDCC77" stroke-width="1.75" fill="none"/><path d="M711.6 309.8V338.5M719.04 309.8V338.5M707.88 334.67H723.09M707.88 327.22H723.09M707.88 319.78H723.09M707.88 312.34H723.09" stroke="#CC6677" stroke-width="1.75" fill="none"/><path d="M711.6 287.5V309.8M719.04 287.5V309.8M707.88 304.89H723.09M707.88 297.45H723.09M707.88 290H723.09" stroke="#AA4499" stroke-width="1.75" fill="none"/><rect x="707.88" y="655.1" width="15.2" height="42.6" fill="none" stroke="#332288" stroke-width="1.8"/><rect x="707.88" y="558.5" width="15.2" height="96.6" fill="none" stroke="#88CCEE" stroke-width="1.8"/><rect x="707.88" y="429.1" width="15.2" height="129.4" fill="none" stroke="#44AA99" stroke-width="1.8"/><rect x="707.88" y="421.4" width="15.2" height="7.7" fill="none" stroke="#117733" stroke-width="1.8"/><rect x="707.88" y="357.3" width="15.2" height="64.1" fill="none" stroke="#999933" stroke-width="1.8"/><rect x="707.88" y="338.5" width="15.2" height="18.8" fill="none" stroke="#DDCC77" stroke-width="1.8"/><rect x="707.88" y="309.8" width="15.2" height="28.7" fill="none" stroke="#CC6677" stroke-width="1.8"/><rect x="707.88" y="287.5" width="15.2" height="22.3" fill="none" stroke="#AA4499" stroke-width="1.8"/></g>
<g><path d="M722.29 1215.2H738.29V1287.5H722.29Z" fill="#332288"/><path d="M722.29 1179.6H738.29V1215.5H722.29Z" fill="#88CCEE"/><path d="M722.29 943.5H738.29V1179.9H722.29Z" fill="#44AA99"/><path d="M722.29 921.4H738.29V943.8H722.29Z" fill="#117733"/><path d="M722.29 786.3H738.29V921.7H722.29Z" fill="#999933"/><path d="M722.29 751H738.29V786.6H722.29Z" fill="#DDCC77"/><path d="M722.29 716.6H738.29V751.3H722.29Z" fill="#CC6677"/><path d="M726.49 638.7V716.6M733.93 638.7V716.6M723.09 714.31H738.3M723.09 706.87H738.3M723.09 699.42H738.3M723.09 691.98H738.3M723.09 684.54H738.3M723.09 677.09H738.3M723.09 669.65H738.3M723.09 662.2H738.3M723.09 654.76H738.3M723.09 647.32H738.3M723.09 639.87H738.3" stroke="#332288" stroke-width="1.75" fill="none"/><path d="M726.49 580.6V638.7M733.93 580.6V638.7M723.09 632.43H738.3M723.09 624.98H738.3M723.09 617.54H738.3M723.09 610.1H738.3M723.09 602.65H738.3M723.09 595.21H738.3M723.09 587.76H738.3" stroke="#88CCEE" stroke-width="1.75" fill="none"/><path d="M726.49 360.6V580.6M733.93 360.6V580.6M723.09 572.88H738.3M723.09 565.43H738.3M723.09 557.99H738.3M723.09 550.54H738.3M723.09 543.1H738.3M723.09 535.66H738.3M723.09 528.21H738.3M723.09 520.77H738.3M723.09 513.32H738.3M723.09 505.88H738.3M723.09 498.44H738.3M723.09 490.99H738.3M723.09 483.55H738.3M723.09 476.1H738.3M723.09 468.66H738.3M723.09 461.22H738.3M723.09 453.77H738.3M723.09 446.33H738.3M723.09 438.88H738.3M723.09 431.44H738.3M723.09 424H738.3M723.09 416.55H738.3M723.09 409.11H738.3M723.09 401.66H738.3M723.09 394.22H738.3M723.09 386.78H738.3M723.09 379.33H738.3M723.09 371.89H738.3M723.09 364.44H738.3" stroke="#44AA99" stroke-width="1.75" fill="none"/><path d="M726.49 350.7V360.6M733.93 350.7V360.6M723.09 357H738.3" stroke="#117733" stroke-width="1.75" fill="none"/><path d="M726.49 272.8V350.7M733.93 272.8V350.7M723.09 349.56H738.3M723.09 342.11H738.3M723.09 334.67H738.3M723.09 327.22H738.3M723.09 319.78H738.3M723.09 312.34H738.3M723.09 304.89H738.3M723.09 297.45H738.3M723.09 290H738.3M723.09 282.56H738.3M723.09 275.12H738.3" stroke="#999933" stroke-width="1.75" fill="none"/><path d="M726.49 252.9V272.8M733.93 252.9V272.8M723.09 267.67H738.3M723.09 260.23H738.3" stroke="#DDCC77" stroke-width="1.75" fill="none"/><path d="M726.49 225.3V252.9M733.93 225.3V252.9M723.09 245.34H738.3M723.09 237.9H738.3M723.09 230.45H738.3" stroke="#CC6677" stroke-width="1.75" fill="none"/><path d="M726.49 202.1V225.3M733.93 202.1V225.3M723.09 223.01H738.3M723.09 215.56H738.3M723.09 208.12H738.3" stroke="#AA4499" stroke-width="1.75" fill="none"/><rect x="723.09" y="638.7" width="15.21" height="77.9" fill="none" stroke="#332288" stroke-width="1.8"/><rect x="723.09" y="580.6" width="15.21" height="58.1" fill="none" stroke="#88CCEE" stroke-width="1.8"/><rect x="723.09" y="360.6" width="15.21" height="220" fill="none" stroke="#44AA99" stroke-width="1.8"/><rect x="723.09" y="350.7" width="15.21" height="9.9" fill="none" stroke="#117733" stroke-width="1.8"/><rect x="723.09" y="272.8" width="15.21" height="77.9" fill="none" stroke="#999933" stroke-width="1.8"/><rect x="723.09" y="252.9" width="15.21" height="19.9" fill="none" stroke="#DDCC77" stroke-width="1.8"/><rect x="723.09" y="225.3" width="15.21" height="27.6" fill="none" stroke="#CC6677" stroke-width="1.8"/><rect x="723.09" y="202.1" width="15.21" height="23.2" fill="none" stroke="#AA4499" stroke-width="1.8"/></g>
<g><path d="M737.5 1213.7H753.5V1287.5H737.5Z" fill="#332288"/><path d="M737.5 1174.1H753.5V1214H737.5Z" fill="#88CCEE"/><path d="M737.5 948.3H753.5V1174.4H737.5Z" fill="#44AA99"/><path d="M737.5 923.1H753.5V948.6H737.5Z" fill="#117733"/><path d="M737.5 792.9H753.5V923.4H737.5Z" fill="#999933"/><path d="M737.5 760.9H753.5V793.2H737.5Z" fill="#DDCC77"/><path d="M737.5 730H753.5V761.2H737.5Z" fill="#CC6677"/><path d="M741.38 686.9V730M748.82 686.9V730M738.3 729.2H753.5M738.3 721.76H753.5M738.3 714.31H753.5M738.3 706.87H753.5M738.3 699.42H753.5M738.3 691.98H753.5" stroke="#332288" stroke-width="1.75" fill="none"/><path d="M741.38 616.6V686.9M748.82 616.6V686.9M738.3 684.54H753.5M738.3 677.09H753.5M738.3 669.65H753.5M738.3 662.2H753.5M738.3 654.76H753.5M738.3 647.32H753.5M738.3 639.87H753.5M738.3 632.43H753.5M738.3 624.98H753.5M738.3 617.54H753.5" stroke="#88CCEE" stroke-width="1.75" fill="none"/><path d="M741.38 401.5V616.6M748.82 401.5V616.6M738.3 610.1H753.5M738.3 602.65H753.5M738.3 595.21H753.5M738.3 587.76H753.5M738.3 580.32H753.5M738.3 572.88H753.5M738.3 565.43H753.5M738.3 557.99H753.5M738.3 550.54H753.5M738.3 543.1H753.5M738.3 535.66H753.5M738.3 528.21H753.5M738.3 520.77H753.5M738.3 513.32H753.5M738.3 505.88H753.5M738.3 498.44H753.5M738.3 490.99H753.5M738.3 483.55H753.5M738.3 476.1H753.5M738.3 468.66H753.5M738.3 461.22H753.5M738.3 453.77H753.5M738.3 446.33H753.5M738.3 438.88H753.5M738.3 431.44H753.5M738.3 424H753.5M738.3 416.55H753.5M738.3 409.11H753.5" stroke="#44AA99" stroke-width="1.75" fill="none"/><path d="M741.38 392.7V401.5M748.82 392.7V401.5M738.3 394.22H753.5" stroke="#117733" stroke-width="1.75" fill="none"/><path d="M741.38 313.1V392.7M748.82 313.1V392.7M738.3 386.78H753.5M738.3 379.33H753.5M738.3 371.89H753.5M738.3 364.44H753.5M738.3 357H753.5M738.3 349.56H753.5M738.3 342.11H753.5M738.3 334.67H753.5M738.3 327.22H753.5M738.3 319.78H753.5" stroke="#999933" stroke-width="1.75" fill="none"/><path d="M741.38 294.4V313.1M748.82 294.4V313.1M738.3 312.34H753.5M738.3 304.89H753.5M738.3 297.45H753.5" stroke="#DDCC77" stroke-width="1.75" fill="none"/><path d="M741.38 266.2V294.4M748.82 266.2V294.4M738.3 290H753.5M738.3 282.56H753.5M738.3 275.12H753.5M738.3 267.67H753.5" stroke="#CC6677" stroke-width="1.75" fill="none"/><path d="M741.38 243.4V266.2M748.82 243.4V266.2M738.3 260.23H753.5M738.3 252.78H753.5M738.3 245.34H753.5" stroke="#AA4499" stroke-width="1.75" fill="none"/><rect x="738.3" y="686.9" width="15.2" height="43.1" fill="none" stroke="#332288" stroke-width="1.8"/><rect x="738.3" y="616.6" width="15.2" height="70.3" fill="none" stroke="#88CCEE" stroke-width="1.8"/><rect x="738.3" y="401.5" width="15.2" height="215.1" fill="none" stroke="#44AA99" stroke-width="1.8"/><rect x="738.3" y="392.7" width="15.2" height="8.8" fill="none" stroke="#117733" stroke-width="1.8"/><rect x="738.3" y="313.1" width="15.2" height="79.6" fill="none" stroke="#999933" stroke-width="1.8"/><rect x="738.3" y="294.4" width="15.2" height="18.7" fill="none" stroke="#DDCC77" stroke-width="1.8"/><rect x="738.3" y="266.2" width="15.2" height="28.2" fill="none" stroke="#CC6677" stroke-width="1.8"/><rect x="738.3" y="243.4" width="15.2" height="22.8" fill="none" stroke="#AA4499" stroke-width="1.8"/></g>
<g><path d="M752.7 1222.9H769.5V1287.5H752.7Z" fill="#332288"/><path d="M752.7 1190.6H769.5V1223.2H752.7Z" fill="#88CCEE"/><path d="M752.7 962.5H769.5V1190.9H752.7Z" fill="#44AA99"/><path d="M752.7 937.5H769.5V962.8H752.7Z" fill="#117733"/><path d="M752.7 800.7H769.5V937.8H752.7Z" fill="#999933"/><path d="M752.7 770.8H769.5V801H752.7Z" fill="#DDCC77"/><path d="M752.7 754.3H769.5V771.1H752.7Z" fill="#CC6677"/><path d="M756.26 734.4V754.3M763.71 734.4V754.3M753.5 751.53H768.7M753.5 744.09H768.7M753.5 736.64H768.7" stroke="#332288" stroke-width="1.75" fill="none"/><path d="M756.26 702.2V734.4M763.71 702.2V734.4M753.5 729.2H768.7M753.5 721.76H768.7M753.5 714.31H768.7M753.5 706.87H768.7" stroke="#88CCEE" stroke-width="1.75" fill="none"/><path d="M756.26 472.2V702.2M763.71 472.2V702.2M753.5 699.42H768.7M753.5 691.98H768.7M753.5 684.54H768.7M753.5 677.09H768.7M753.5 669.65H768.7M753.5 662.2H768.7M753.5 654.76H768.7M753.5 647.32H768.7M753.5 639.87H768.7M753.5 632.43H768.7M753.5 624.98H768.7M753.5 617.54H768.7M753.5 610.1H768.7M753.5 602.65H768.7M753.5 595.21H768.7M753.5 587.76H768.7M753.5 580.32H768.7M753.5 572.88H768.7M753.5 565.43H768.7M753.5 557.99H768.7M753.5 550.54H768.7M753.5 543.1H768.7M753.5 535.66H768.7M753.5 528.21H768.7M753.5 520.77H768.7M753.5 513.32H768.7M753.5 505.88H768.7M753.5 498.44H768.7M753.5 490.99H768.7M753.5 483.55H768.7M753.5 476.1H768.7" stroke="#44AA99" stroke-width="1.75" fill="none"/><path d="M756.26 462.2V472.2M763.71 462.2V472.2M753.5 468.66H768.7" stroke="#117733" stroke-width="1.75" fill="none"/><path d="M756.26 396V462.2M763.71 396V462.2M753.5 461.22H768.7M753.5 453.77H768.7M753.5 446.33H768.7M753.5 438.88H768.7M753.5 431.44H768.7M753.5 424H768.7M753.5 416.55H768.7M753.5 409.11H768.7M753.5 401.66H768.7" stroke="#999933" stroke-width="1.75" fill="none"/><path d="M756.26 377.2V396M763.71 377.2V396M753.5 394.22H768.7M753.5 386.78H768.7M753.5 379.33H768.7" stroke="#DDCC77" stroke-width="1.75" fill="none"/><path d="M756.26 348.5V377.2M763.71 348.5V377.2M753.5 371.89H768.7M753.5 364.44H768.7M753.5 357H768.7M753.5 349.56H768.7" stroke="#CC6677" stroke-width="1.75" fill="none"/><path d="M756.26 325.3V348.5M763.71 325.3V348.5M753.5 342.11H768.7M753.5 334.67H768.7M753.5 327.22H768.7" stroke="#AA4499" stroke-width="1.75" fill="none"/><rect x="753.5" y="734.4" width="15.2" height="19.9" fill="none" stroke="#332288" stroke-width="1.8"/><rect x="753.5" y="702.2" width="15.2" height="32.2" fill="none" stroke="#88CCEE" stroke-width="1.8"/><rect x="753.5" y="472.2" width="15.2" height="230" fill="none" stroke="#44AA99" stroke-width="1.8"/><rect x="753.5" y="462.2" width="15.2" height="10" fill="none" stroke="#117733" stroke-width="1.8"/><rect x="753.5" y="396" width="15.2" height="66.2" fill="none" stroke="#999933" stroke-width="1.8"/><rect x="753.5" y="377.2" width="15.2" height="18.8" fill="none" stroke="#DDCC77" stroke-width="1.8"/><rect x="753.5" y="348.5" width="15.2" height="28.7" fill="none" stroke="#CC6677" stroke-width="1.8"/><rect x="753.5" y="325.3" width="15.2" height="23.2" fill="none" stroke="#AA4499" stroke-width="1.8"/></g>
<path d="M153.7 1287.3H761.5" stroke="#000" stroke-width="2" fill="none"/>
<path d="M153.7 1287V1306.5M305.65 1287V1306.5M457.6 1287V1306.5M609.55 1287V1306.5M761.5 1287V1306.5" stroke="#000" stroke-width="1.8" fill="none"/>
<path d="M126.4 1287.5H145.3M126.4 1060.42H145.3M126.4 833.34H145.3M126.4 606.26H145.3M126.4 379.18H145.3M126.4 152.1H145.3" stroke="#000" stroke-width="1.8" fill="none"/>
<text x="154.3" y="1354.8" font-family="Liberation Sans, sans-serif" font-size="31" text-anchor="middle">1975</text>
<text x="306.25" y="1354.8" font-family="Liberation Sans, sans-serif" font-size="31" text-anchor="middle">1985</text>
<text x="458.2" y="1354.8" font-family="Liberation Sans, sans-serif" font-size="31" text-anchor="middle">1995</text>
<text x="610.15" y="1354.8" font-family="Liberation Sans, sans-serif" font-size="31" text-anchor="middle">2005</text>
<text x="762.1" y="1354.8" font-family="Liberation Sans, sans-serif" font-size="31" text-anchor="middle">2015</text>
<text x="108.3" y="1299.7" font-family="Liberation Sans, sans-serif" font-size="31" text-anchor="end">0</text>
<text x="108.3" y="1072.62" font-family="Liberation Sans, sans-serif" font-size="31" text-anchor="end">100</text>
<text x="108.3" y="845.54" font-family="Liberation Sans, sans-serif" font-size="31" text-anchor="end">200</text>
<text x="108.3" y="618.46" font-family="Liberation Sans, sans-serif" font-size="31" text-anchor="end">300</text>
<text x="108.3" y="391.38" font-family="Liberation Sans, sans-serif" font-size="31" text-anchor="end">400</text>
<text x="108.3" y="164.3" font-family="Liberation Sans, sans-serif" font-size="31" text-anchor="end">500</text>
<text transform="translate(27.2 645.5) rotate(-90)" x="0" y="0" font-family="Liberation Sans, sans-serif" font-size="31.3" text-anchor="middle">Smolts production (millions)</text>
<path d="M788.9 26.7V54.5M775 40.6H802.8" stroke="#AA4499" stroke-width="1.75" fill="none"/>
<rect x="775" y="26.7" width="27.8" height="27.8" fill="none" stroke="#AA4499" stroke-width="1.8"/>
<rect x="812.9" y="26.95" width="27.3" height="27.3" fill="#AA4499"/>
<text x="855" y="52" font-family="Liberation Sans, sans-serif" font-size="31">GoA</text>
<path d="M788.9 63.97V91.77M775 77.87H802.8" stroke="#CC6677" stroke-width="1.75" fill="none"/>
<rect x="775" y="63.97" width="27.8" height="27.8" fill="none" stroke="#CC6677" stroke-width="1.8"/>
<rect x="812.9" y="64.22" width="27.3" height="27.3" fill="#CC6677"/>
<text x="855" y="89.27" font-family="Liberation Sans, sans-serif" font-size="31">SEAK</text>
<path d="M788.9 101.24V129.04M775 115.14H802.8" stroke="#DDCC77" stroke-width="1.75" fill="none"/>
<rect x="775" y="101.24" width="27.8" height="27.8" fill="none" stroke="#DDCC77" stroke-width="1.8"/>
<rect x="812.9" y="101.49" width="27.3" height="27.3" fill="#DDCC77"/>
<text x="855" y="126.54" font-family="Liberation Sans, sans-serif" font-size="31">WVI/N.BC</text>
<path d="M788.9 138.51V166.31M775 152.41H802.8" stroke="#999933" stroke-width="1.75" fill="none"/>
<rect x="775" y="138.51" width="27.8" height="27.8" fill="none" stroke="#999933" stroke-width="1.8"/>
<rect x="812.9" y="138.76" width="27.3" height="27.3" fill="#999933"/>
<text x="855" y="163.81" font-family="Liberation Sans, sans-serif" font-size="31">Sal.Sea</text>
<path d="M788.9 175.78V203.58M775 189.68H802.8" stroke="#117733" stroke-width="1.75" fill="none"/>
<rect x="775" y="175.78" width="27.8" height="27.8" fill="none" stroke="#117733" stroke-width="1.8"/>
<rect x="812.9" y="176.03" width="27.3" height="27.3" fill="#117733"/>
<text x="855" y="201.08" font-family="Liberation Sans, sans-serif" font-size="31">WA</text>
<path d="M788.9 213.05V240.85M775 226.95H802.8" stroke="#44AA99" stroke-width="1.75" fill="none"/>
<rect x="775" y="213.05" width="27.8" height="27.8" fill="none" stroke="#44AA99" stroke-width="1.8"/>
<rect x="812.9" y="213.3" width="27.3" height="27.3" fill="#44AA99"/>
<text x="855" y="238.35" font-family="Liberation Sans, sans-serif" font-size="31">Col.Riv.</text>
<path d="M788.9 250.32V278.12M775 264.22H802.8" stroke="#88CCEE" stroke-width="1.75" fill="none"/>
<rect x="775" y="250.32" width="27.8" height="27.8" fill="none" stroke="#88CCEE" stroke-width="1.8"/>
<rect x="812.9" y="250.57" width="27.3" height="27.3" fill="#88CCEE"/>
<text x="855" y="275.62" font-family="Liberation Sans, sans-serif" font-size="31">N.CA/OR</text>
<path d="M788.9 287.59V315.39M775 301.49H802.8" stroke="#332288" stroke-width="1.75" fill="none"/>
<rect x="775" y="287.59" width="27.8" height="27.8" fill="none" stroke="#332288" stroke-width="1.8"/>
<rect x="812.9" y="287.84" width="27.3" height="27.3" fill="#332288"/>
<text x="855" y="312.89" font-family="Liberation Sans, sans-serif" font-size="31">Cen.CA</text>
</svg>
</body></html>
